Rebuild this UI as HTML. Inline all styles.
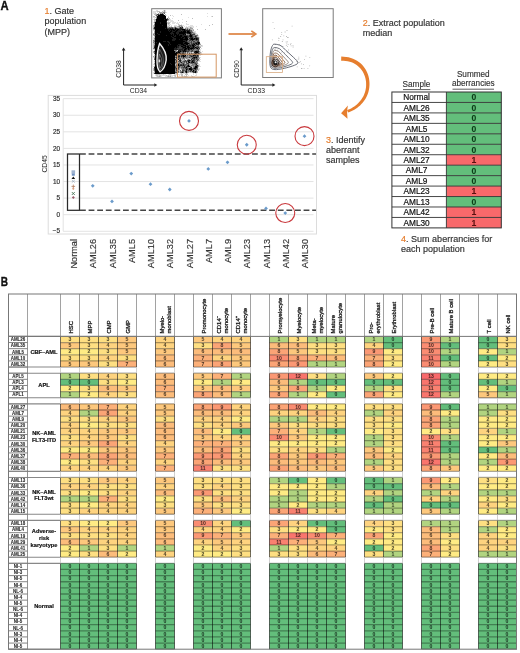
<!DOCTYPE html>
<html><head><meta charset="utf-8"><style>
html,body{margin:0;padding:0;background:#fff;}
svg{display:block;font-family:"Liberation Sans", sans-serif;will-change:transform;}
</style></head><body>
<svg width="520" height="653" viewBox="0 0 520 653">
<text transform="translate(0.5,10.4) scale(.9,1)" font-size="12.5" font-weight="bold" fill="#111" stroke="#111" stroke-width=".35">A</text>
<text x="44.6" y="13.6" font-size="9" fill="#333" stroke="#333" stroke-width=".18"><tspan x="44.6" y="13.60"><tspan fill="#e67e2e" stroke="#e67e2e">1</tspan>. Gate</tspan><tspan x="44.6" y="24.20">population</tspan><tspan x="44.6" y="34.80">(MPP)</tspan></text>
<text x="362.7" y="26.2" font-size="9" fill="#333" stroke="#333" stroke-width=".18"><tspan x="362.7" y="26.20"><tspan fill="#e67e2e" stroke="#e67e2e">2</tspan>. Extract population</tspan><tspan x="362.7" y="36.30">median</tspan></text>
<text x="326" y="143.3" font-size="9" fill="#333" stroke="#333" stroke-width=".18"><tspan x="326" y="143.30"><tspan fill="#e67e2e" stroke="#e67e2e">3</tspan>. Identify</tspan><tspan x="326" y="153.20">aberrant</tspan><tspan x="326" y="163.10">samples</tspan></text>
<text x="401.1" y="242.2" font-size="9" fill="#333" stroke="#333" stroke-width=".18"><tspan x="401.1" y="242.20"><tspan fill="#e67e2e" stroke="#e67e2e">4</tspan>. Sum aberrancies for</tspan><tspan x="401.1" y="251.50">each population</tspan></text>
<path d="M123.6 85 V50.0 M123.6 85 H154.8" stroke="#222" stroke-width="1" fill="none"/>
<path d="M121.8 50.5 L123.6 47.5 L125.39999999999999 50.5Z" fill="#222"/>
<path d="M154.3 83.2 L157.3 85 L154.3 86.8Z" fill="#222"/>
<text x="138.45" y="93.3" font-size="6.8" fill="#222" text-anchor="middle">CD34</text>
<text transform="translate(121.39999999999999,69) rotate(-90)" font-size="6.8" fill="#222" text-anchor="middle">CD38</text>
<path d="M241.2 85 V49.8 M241.2 85 H272.9" stroke="#222" stroke-width="1" fill="none"/>
<path d="M239.39999999999998 50.3 L241.2 47.3 L243.0 50.3Z" fill="#222"/>
<path d="M272.4 83.2 L275.4 85 L272.4 86.8Z" fill="#222"/>
<text x="256.3" y="93.3" font-size="6.8" fill="#222" text-anchor="middle">CD33</text>
<text transform="translate(239.0,69) rotate(-90)" font-size="6.8" fill="#222" text-anchor="middle">CD90</text>
<rect x="151.7" y="8.7" width="69.7" height="69.2" fill="#fff" stroke="#7a7a7a" stroke-width="1"/>
<path d="M156 10h2v1h-2zM163 10h1v1h-1zM165 10h1v1h-1zM153 11h4v1h-4zM163 11h1v1h-1zM165 11h1v1h-1zM153 12h3v1h-3zM157 12h1v1h-1zM166 12h1v1h-1zM153 13h2v1h-2zM156 13h1v1h-1zM159 13h1v1h-1zM207 13h1v1h-1zM166 15h1v1h-1zM172 15h1v1h-1zM168 16h1v1h-1zM173 16h1v1h-1zM207 16h1v1h-1zM211 16h1v1h-1zM153 17h2v1h-2zM188 17h1v1h-1zM154 18h1v1h-1zM168 18h1v1h-1zM172 18h1v1h-1zM153 19h1v1h-1zM169 19h2v1h-2zM182 19h1v1h-1zM169 20h4v1h-4zM168 21h1v1h-1zM170 21h4v1h-4zM153 22h1v1h-1zM170 22h1v1h-1zM172 22h4v1h-4zM177 22h1v1h-1zM179 22h1v1h-1zM182 22h1v1h-1zM172 23h3v1h-3zM176 23h3v1h-3zM186 23h1v1h-1zM167 24h1v1h-1zM169 24h2v1h-2zM179 24h1v1h-1zM181 24h1v1h-1zM186 24h3v1h-3zM201 24h1v1h-1zM167 25h2v1h-2zM171 25h1v1h-1zM174 25h3v1h-3zM178 25h1v1h-1zM182 25h2v1h-2zM190 25h3v1h-3zM169 26h2v1h-2zM176 26h1v1h-1zM184 26h1v1h-1zM186 26h1v1h-1zM188 26h6v1h-6zM196 26h1v1h-1zM183 27h1v1h-1zM185 27h1v1h-1zM188 27h2v1h-2zM192 27h2v1h-2zM184 28h1v1h-1zM153 30h1v1h-1zM193 31h3v1h-3zM195 32h1v1h-1zM196 33h1v1h-1zM196 34h1v1h-1zM198 35h1v1h-1zM198 36h1v1h-1zM153 37h1v1h-1zM199 37h1v1h-1zM153 38h1v1h-1zM199 38h1v1h-1zM153 39h1v1h-1zM199 39h1v1h-1zM199 40h1v1h-1zM200 43h1v1h-1zM199 45h2v1h-2zM202 45h1v1h-1zM201 46h2v1h-2zM201 48h1v1h-1zM153 49h1v1h-1zM200 49h1v1h-1zM177 50h1v1h-1zM199 50h2v1h-2zM200 51h1v1h-1zM202 51h1v1h-1zM192 52h1v1h-1zM201 52h1v1h-1zM201 53h1v1h-1zM154 54h1v1h-1zM202 54h1v1h-1zM199 55h2v1h-2zM153 57h1v1h-1zM200 57h1v1h-1zM185 59h2v1h-2zM199 59h2v1h-2zM154 60h1v1h-1zM177 60h1v1h-1zM198 61h3v1h-3zM154 62h1v1h-1zM198 63h1v1h-1zM153 64h1v1h-1zM198 64h2v1h-2zM154 65h1v1h-1zM199 65h1v1h-1zM153 66h1v1h-1zM199 66h2v1h-2zM198 67h1v1h-1zM198 68h2v1h-2zM180 69h1v1h-1zM199 69h1v1h-1zM181 70h1v1h-1zM197 70h1v1h-1zM153 72h1v1h-1zM189 72h1v1h-1zM153 73h1v1h-1zM177 73h1v1h-1zM180 73h1v1h-1zM182 73h4v1h-4zM187 73h1v1h-1zM193 73h1v1h-1zM195 73h2v1h-2zM155 74h1v1h-1zM160 74h3v1h-3zM164 74h2v1h-2zM168 74h1v1h-1zM171 74h1v1h-1zM174 74h3v1h-3zM178 74h3v1h-3zM193 74h1v1h-1zM196 74h1v1h-1zM155 75h1v1h-1zM158 75h1v1h-1zM161 75h5v1h-5zM167 75h1v1h-1zM169 75h1v1h-1zM171 75h3v1h-3zM179 75h1v1h-1zM184 75h1v1h-1zM188 75h1v1h-1zM191 75h1v1h-1zM195 75h2v1h-2zM156 76h1v1h-1zM161 76h1v1h-1zM165 76h2v1h-2zM171 76h2v1h-2zM174 76h1v1h-1zM181 76h1v1h-1zM183 76h1v1h-1zM187 76h1v1h-1zM191 76h1v1h-1zM193 76h2v1h-2z" fill="rgb(223,223,223)" shape-rendering="crispEdges"/>
<path d="M157 11h3v1h-3zM162 11h1v1h-1zM162 12h1v1h-1zM165 12h1v1h-1zM155 13h1v1h-1zM163 13h1v1h-1zM154 14h2v1h-2zM165 14h1v1h-1zM181 14h1v1h-1zM155 15h1v1h-1zM165 15h1v1h-1zM170 15h1v1h-1zM153 16h2v1h-2zM212 16h1v1h-1zM155 17h1v1h-1zM168 17h1v1h-1zM166 18h1v1h-1zM169 18h1v1h-1zM192 18h1v1h-1zM154 19h1v1h-1zM154 20h2v1h-2zM168 20h1v1h-1zM178 20h1v1h-1zM154 21h1v1h-1zM186 21h1v1h-1zM167 22h3v1h-3zM154 23h1v1h-1zM167 23h1v1h-1zM169 23h1v1h-1zM168 24h1v1h-1zM178 24h1v1h-1zM212 24h1v1h-1zM153 25h1v1h-1zM169 25h1v1h-1zM209 25h1v1h-1zM153 26h1v1h-1zM167 26h2v1h-2zM171 26h1v1h-1zM174 26h2v1h-2zM177 26h1v1h-1zM180 26h1v1h-1zM153 27h1v1h-1zM177 27h2v1h-2zM186 27h2v1h-2zM191 27h1v1h-1zM186 28h1v1h-1zM188 28h2v1h-2zM153 29h1v1h-1zM191 29h3v1h-3zM197 29h1v1h-1zM205 29h1v1h-1zM154 30h1v1h-1zM192 30h1v1h-1zM194 32h1v1h-1zM153 33h1v1h-1zM195 33h1v1h-1zM195 34h1v1h-1zM197 34h1v1h-1zM153 35h1v1h-1zM154 36h1v1h-1zM197 36h1v1h-1zM154 37h1v1h-1zM199 41h1v1h-1zM153 43h1v1h-1zM153 44h1v1h-1zM153 45h1v1h-1zM201 45h1v1h-1zM153 46h1v1h-1zM200 46h1v1h-1zM153 47h1v1h-1zM154 49h1v1h-1zM154 50h1v1h-1zM153 51h1v1h-1zM153 52h1v1h-1zM186 52h1v1h-1zM190 52h1v1h-1zM193 52h1v1h-1zM186 53h1v1h-1zM188 53h1v1h-1zM200 53h1v1h-1zM199 54h3v1h-3zM154 55h1v1h-1zM154 56h1v1h-1zM199 57h1v1h-1zM175 58h1v1h-1zM185 58h1v1h-1zM188 58h2v1h-2zM177 59h1v1h-1zM181 59h1v1h-1zM183 59h1v1h-1zM190 59h1v1h-1zM178 60h1v1h-1zM182 60h1v1h-1zM199 60h1v1h-1zM154 61h1v1h-1zM177 61h1v1h-1zM185 63h1v1h-1zM154 64h1v1h-1zM175 64h1v1h-1zM190 64h2v1h-2zM197 64h1v1h-1zM190 65h1v1h-1zM192 66h1v1h-1zM192 67h1v1h-1zM153 68h1v1h-1zM180 68h1v1h-1zM153 69h1v1h-1zM181 69h1v1h-1zM198 69h1v1h-1zM153 70h1v1h-1zM179 70h1v1h-1zM198 70h1v1h-1zM179 71h1v1h-1zM197 71h1v1h-1zM154 72h1v1h-1zM179 72h1v1h-1zM184 72h1v1h-1zM190 72h2v1h-2zM197 72h1v1h-1zM175 73h2v1h-2zM181 73h1v1h-1zM156 74h4v1h-4zM163 74h1v1h-1zM169 74h2v1h-2zM181 74h2v1h-2zM185 74h3v1h-3zM156 75h2v1h-2zM159 75h2v1h-2zM166 75h1v1h-1zM168 75h1v1h-1zM170 75h1v1h-1zM174 75h2v1h-2zM181 75h2v1h-2zM186 75h1v1h-1zM157 76h2v1h-2zM160 76h1v1h-1zM167 76h1v1h-1zM169 76h1v1h-1zM175 76h1v1h-1zM182 76h1v1h-1zM184 76h3v1h-3zM192 76h1v1h-1z" fill="rgb(191,191,191)" shape-rendering="crispEdges"/>
<path d="M164 10h1v1h-1zM164 11h1v1h-1zM159 12h3v1h-3zM158 13h1v1h-1zM161 13h1v1h-1zM156 14h1v1h-1zM157 15h1v1h-1zM156 16h1v1h-1zM156 17h1v1h-1zM155 19h1v1h-1zM155 21h1v1h-1zM168 23h1v1h-1zM179 25h3v1h-3zM178 26h1v1h-1zM182 26h1v1h-1zM168 27h1v1h-1zM173 27h1v1h-1zM176 27h1v1h-1zM190 27h1v1h-1zM183 28h1v1h-1zM190 28h3v1h-3zM188 29h1v1h-1zM190 29h1v1h-1zM193 30h1v1h-1zM154 31h1v1h-1zM192 31h1v1h-1zM154 32h1v1h-1zM193 32h1v1h-1zM192 33h1v1h-1zM154 34h1v1h-1zM186 34h1v1h-1zM154 39h1v1h-1zM153 41h1v1h-1zM154 42h1v1h-1zM154 44h1v1h-1zM200 44h1v1h-1zM199 46h1v1h-1zM200 47h1v1h-1zM199 49h1v1h-1zM176 51h1v1h-1zM188 52h2v1h-2zM191 52h1v1h-1zM199 52h2v1h-2zM190 53h1v1h-1zM179 54h1v1h-1zM186 55h1v1h-1zM188 55h1v1h-1zM153 56h1v1h-1zM175 56h1v1h-1zM188 56h1v1h-1zM154 57h1v1h-1zM180 57h1v1h-1zM181 58h1v1h-1zM187 58h1v1h-1zM190 58h1v1h-1zM198 58h2v1h-2zM182 59h1v1h-1zM187 59h1v1h-1zM183 60h1v1h-1zM186 60h1v1h-1zM196 60h1v1h-1zM198 60h1v1h-1zM175 61h1v1h-1zM181 61h1v1h-1zM195 61h1v1h-1zM197 61h1v1h-1zM177 62h2v1h-2zM185 62h1v1h-1zM187 62h1v1h-1zM197 62h1v1h-1zM154 63h1v1h-1zM176 63h1v1h-1zM180 63h1v1h-1zM189 63h1v1h-1zM189 64h1v1h-1zM175 65h1v1h-1zM194 65h1v1h-1zM198 65h1v1h-1zM154 66h1v1h-1zM191 66h1v1h-1zM198 66h1v1h-1zM180 67h1v1h-1zM189 67h1v1h-1zM179 68h1v1h-1zM179 69h1v1h-1zM175 70h1v1h-1zM178 70h1v1h-1zM154 71h1v1h-1zM184 71h1v1h-1zM188 72h1v1h-1zM192 72h1v1h-1zM186 73h1v1h-1zM159 76h1v1h-1zM168 76h1v1h-1zM170 76h1v1h-1z" fill="rgb(159,159,159)" shape-rendering="crispEdges"/>
<path d="M163 12h2v1h-2zM160 13h1v1h-1zM159 14h1v1h-1zM156 18h1v1h-1zM168 19h1v1h-1zM167 20h1v1h-1zM154 22h1v1h-1zM154 24h1v1h-1zM154 25h1v1h-1zM154 26h1v1h-1zM179 26h1v1h-1zM181 26h1v1h-1zM167 27h1v1h-1zM170 27h1v1h-1zM174 27h1v1h-1zM179 27h1v1h-1zM153 28h1v1h-1zM185 28h1v1h-1zM187 28h1v1h-1zM154 29h1v1h-1zM186 29h1v1h-1zM154 33h1v1h-1zM193 33h2v1h-2zM153 34h1v1h-1zM187 34h2v1h-2zM154 35h1v1h-1zM193 35h2v1h-2zM197 35h1v1h-1zM194 37h1v1h-1zM198 37h1v1h-1zM154 38h1v1h-1zM188 38h1v1h-1zM153 40h2v1h-2zM188 40h1v1h-1zM194 40h1v1h-1zM190 41h1v1h-1zM192 41h1v1h-1zM195 41h2v1h-2zM153 42h1v1h-1zM192 42h1v1h-1zM154 43h1v1h-1zM190 43h1v1h-1zM199 44h1v1h-1zM196 45h2v1h-2zM195 46h1v1h-1zM199 47h1v1h-1zM153 48h1v1h-1zM194 49h3v1h-3zM174 50h3v1h-3zM190 50h1v1h-1zM193 50h3v1h-3zM189 51h2v1h-2zM193 51h1v1h-1zM199 51h1v1h-1zM154 52h1v1h-1zM181 52h1v1h-1zM184 52h1v1h-1zM192 53h2v1h-2zM186 54h2v1h-2zM191 54h1v1h-1zM198 54h1v1h-1zM180 55h1v1h-1zM180 56h1v1h-1zM186 56h2v1h-2zM189 56h1v1h-1zM182 57h1v1h-1zM184 57h1v1h-1zM186 57h3v1h-3zM190 57h2v1h-2zM198 57h1v1h-1zM154 58h1v1h-1zM177 58h1v1h-1zM182 58h1v1h-1zM184 58h1v1h-1zM186 58h1v1h-1zM191 58h1v1h-1zM176 59h1v1h-1zM179 59h1v1h-1zM184 59h1v1h-1zM189 59h1v1h-1zM192 59h1v1h-1zM195 59h1v1h-1zM175 60h1v1h-1zM181 60h1v1h-1zM184 60h1v1h-1zM195 60h1v1h-1zM182 61h1v1h-1zM190 61h1v1h-1zM179 62h1v1h-1zM182 62h2v1h-2zM196 62h1v1h-1zM175 63h1v1h-1zM181 63h1v1h-1zM184 63h1v1h-1zM190 63h1v1h-1zM193 63h1v1h-1zM197 63h1v1h-1zM176 64h1v1h-1zM187 64h1v1h-1zM192 64h3v1h-3zM186 65h1v1h-1zM189 65h1v1h-1zM191 65h3v1h-3zM176 66h1v1h-1zM180 66h2v1h-2zM183 66h1v1h-1zM185 66h1v1h-1zM193 66h2v1h-2zM176 67h2v1h-2zM188 67h1v1h-1zM193 67h1v1h-1zM181 68h2v1h-2zM184 68h1v1h-1zM175 69h1v1h-1zM177 69h1v1h-1zM184 69h2v1h-2zM197 69h1v1h-1zM187 70h1v1h-1zM189 70h1v1h-1zM192 70h1v1h-1zM175 71h3v1h-3zM180 71h2v1h-2zM187 71h3v1h-3zM191 71h1v1h-1zM177 72h2v1h-2zM187 72h1v1h-1zM196 72h1v1h-1z" fill="rgb(128,128,128)" shape-rendering="crispEdges"/>
<path d="M162 13h1v1h-1zM164 13h1v1h-1zM156 15h1v1h-1zM167 18h1v1h-1zM169 27h1v1h-1zM171 27h2v1h-2zM181 27h1v1h-1zM173 28h2v1h-2zM178 28h1v1h-1zM190 30h2v1h-2zM190 31h2v1h-2zM191 32h2v1h-2zM186 33h1v1h-1zM191 33h1v1h-1zM189 34h1v1h-1zM188 35h1v1h-1zM195 35h2v1h-2zM193 36h2v1h-2zM196 36h1v1h-1zM189 37h1v1h-1zM193 37h1v1h-1zM197 37h1v1h-1zM189 39h1v1h-1zM191 40h1v1h-1zM193 40h1v1h-1zM195 40h1v1h-1zM197 40h1v1h-1zM154 41h1v1h-1zM187 41h3v1h-3zM188 42h3v1h-3zM193 42h2v1h-2zM192 43h1v1h-1zM188 44h1v1h-1zM190 44h1v1h-1zM195 44h1v1h-1zM154 45h1v1h-1zM198 45h1v1h-1zM196 46h1v1h-1zM198 46h1v1h-1zM154 48h1v1h-1zM195 48h1v1h-1zM198 48h1v1h-1zM192 49h1v1h-1zM197 49h1v1h-1zM187 50h1v1h-1zM191 50h1v1h-1zM196 50h2v1h-2zM175 51h1v1h-1zM177 51h1v1h-1zM192 51h1v1h-1zM175 52h1v1h-1zM180 52h1v1h-1zM182 52h1v1h-1zM185 52h1v1h-1zM187 52h1v1h-1zM154 53h1v1h-1zM181 53h1v1h-1zM184 53h2v1h-2zM187 53h1v1h-1zM194 53h1v1h-1zM197 53h1v1h-1zM199 53h1v1h-1zM185 54h1v1h-1zM188 54h1v1h-1zM190 54h1v1h-1zM192 54h2v1h-2zM197 54h1v1h-1zM187 55h1v1h-1zM189 55h1v1h-1zM191 55h2v1h-2zM196 55h1v1h-1zM198 55h1v1h-1zM176 56h1v1h-1zM190 56h1v1h-1zM194 56h1v1h-1zM198 56h1v1h-1zM175 57h1v1h-1zM177 57h1v1h-1zM179 57h1v1h-1zM181 57h1v1h-1zM185 57h1v1h-1zM192 57h1v1h-1zM197 57h1v1h-1zM178 58h3v1h-3zM183 58h1v1h-1zM195 58h1v1h-1zM197 58h1v1h-1zM154 59h1v1h-1zM188 59h1v1h-1zM197 59h2v1h-2zM191 60h1v1h-1zM178 61h2v1h-2zM183 61h1v1h-1zM185 61h1v1h-1zM187 61h1v1h-1zM196 61h1v1h-1zM175 62h2v1h-2zM180 62h1v1h-1zM184 62h1v1h-1zM190 62h1v1h-1zM195 62h1v1h-1zM177 63h3v1h-3zM182 63h1v1h-1zM186 63h1v1h-1zM191 63h2v1h-2zM194 63h1v1h-1zM196 63h1v1h-1zM177 64h1v1h-1zM179 64h1v1h-1zM182 64h1v1h-1zM184 64h3v1h-3zM195 64h1v1h-1zM176 65h1v1h-1zM185 65h1v1h-1zM195 65h1v1h-1zM175 66h1v1h-1zM178 66h1v1h-1zM182 66h1v1h-1zM190 66h1v1h-1zM179 67h1v1h-1zM181 67h2v1h-2zM187 67h1v1h-1zM175 68h1v1h-1zM177 68h1v1h-1zM183 68h1v1h-1zM188 68h1v1h-1zM192 68h1v1h-1zM197 68h1v1h-1zM178 69h1v1h-1zM182 69h2v1h-2zM188 69h1v1h-1zM193 69h2v1h-2zM196 69h1v1h-1zM154 70h1v1h-1zM180 70h1v1h-1zM184 70h2v1h-2zM188 70h1v1h-1zM194 70h3v1h-3zM178 71h1v1h-1zM183 71h1v1h-1zM194 71h1v1h-1zM196 71h1v1h-1zM180 72h1v1h-1zM183 72h1v1h-1zM185 72h1v1h-1z" fill="rgb(96,96,96)" shape-rendering="crispEdges"/>
<path d="M157 14h2v1h-2zM163 14h1v1h-1zM167 19h1v1h-1zM175 27h1v1h-1zM167 28h3v1h-3zM171 28h1v1h-1zM177 28h1v1h-1zM179 28h1v1h-1zM182 28h1v1h-1zM185 29h1v1h-1zM187 29h1v1h-1zM189 29h1v1h-1zM181 30h1v1h-1zM186 31h1v1h-1zM191 34h4v1h-4zM186 35h2v1h-2zM192 35h1v1h-1zM188 36h1v1h-1zM192 36h1v1h-1zM188 37h1v1h-1zM195 37h2v1h-2zM193 38h1v1h-1zM198 38h1v1h-1zM188 39h1v1h-1zM195 39h1v1h-1zM198 39h1v1h-1zM187 40h1v1h-1zM189 40h2v1h-2zM196 40h1v1h-1zM198 40h1v1h-1zM191 41h1v1h-1zM193 41h2v1h-2zM197 41h2v1h-2zM191 42h1v1h-1zM195 42h2v1h-2zM189 43h1v1h-1zM191 43h1v1h-1zM194 43h1v1h-1zM197 43h1v1h-1zM189 44h1v1h-1zM191 44h1v1h-1zM186 45h1v1h-1zM191 45h1v1h-1zM194 45h1v1h-1zM154 46h1v1h-1zM179 46h2v1h-2zM189 46h1v1h-1zM191 46h1v1h-1zM197 46h1v1h-1zM179 47h3v1h-3zM186 47h1v1h-1zM190 47h1v1h-1zM194 47h1v1h-1zM197 47h1v1h-1zM177 48h5v1h-5zM199 48h1v1h-1zM178 49h1v1h-1zM183 49h1v1h-1zM187 49h1v1h-1zM190 49h1v1h-1zM193 49h1v1h-1zM198 49h1v1h-1zM181 50h1v1h-1zM186 50h1v1h-1zM188 50h2v1h-2zM192 50h1v1h-1zM198 50h1v1h-1zM154 51h1v1h-1zM181 51h2v1h-2zM186 51h3v1h-3zM191 51h1v1h-1zM194 51h1v1h-1zM183 52h1v1h-1zM198 52h1v1h-1zM178 53h1v1h-1zM189 53h1v1h-1zM191 53h1v1h-1zM189 54h1v1h-1zM195 54h2v1h-2zM175 55h1v1h-1zM178 55h2v1h-2zM181 55h1v1h-1zM184 55h1v1h-1zM190 55h1v1h-1zM182 56h1v1h-1zM185 56h1v1h-1zM192 56h2v1h-2zM195 56h3v1h-3zM178 57h1v1h-1zM189 57h1v1h-1zM176 58h1v1h-1zM193 58h1v1h-1zM196 58h1v1h-1zM175 59h1v1h-1zM180 59h1v1h-1zM193 59h2v1h-2zM196 59h1v1h-1zM176 60h1v1h-1zM185 60h1v1h-1zM187 60h1v1h-1zM190 60h1v1h-1zM194 60h1v1h-1zM197 60h1v1h-1zM176 61h1v1h-1zM184 61h1v1h-1zM186 61h1v1h-1zM189 61h1v1h-1zM191 61h1v1h-1zM193 61h2v1h-2zM186 62h1v1h-1zM194 62h1v1h-1zM183 63h1v1h-1zM187 63h2v1h-2zM195 63h1v1h-1zM180 64h2v1h-2zM188 64h1v1h-1zM179 65h1v1h-1zM182 65h1v1h-1zM184 65h1v1h-1zM187 65h1v1h-1zM196 65h1v1h-1zM179 66h1v1h-1zM186 66h1v1h-1zM197 66h1v1h-1zM175 67h1v1h-1zM178 67h1v1h-1zM183 67h3v1h-3zM190 67h1v1h-1zM194 67h1v1h-1zM197 67h1v1h-1zM154 68h1v1h-1zM178 68h1v1h-1zM185 68h3v1h-3zM193 68h1v1h-1zM196 68h1v1h-1zM154 69h1v1h-1zM176 69h1v1h-1zM187 69h1v1h-1zM192 69h1v1h-1zM176 70h1v1h-1zM182 70h2v1h-2zM190 70h1v1h-1zM182 71h1v1h-1zM190 71h1v1h-1zM175 72h2v1h-2zM181 72h1v1h-1zM193 72h2v1h-2zM154 73h1v1h-1z" fill="rgb(64,64,64)" shape-rendering="crispEdges"/>
<path d="M164 19h1v1h-1zM166 21h1v1h-1zM160 22h1v1h-1zM166 22h1v1h-1zM160 23h1v1h-1zM162 25h1v1h-1zM154 27h1v1h-1zM180 27h1v1h-1zM182 27h1v1h-1zM154 28h1v1h-1zM165 28h1v1h-1zM170 28h1v1h-1zM172 28h1v1h-1zM176 28h1v1h-1zM180 28h2v1h-2zM168 29h2v1h-2zM174 29h1v1h-1zM176 29h1v1h-1zM179 29h3v1h-3zM168 30h1v1h-1zM170 30h1v1h-1zM172 30h1v1h-1zM175 30h1v1h-1zM178 30h3v1h-3zM182 30h2v1h-2zM185 30h5v1h-5zM160 31h1v1h-1zM169 31h1v1h-1zM172 31h3v1h-3zM177 31h4v1h-4zM182 31h1v1h-1zM189 31h1v1h-1zM160 32h1v1h-1zM171 32h2v1h-2zM176 32h3v1h-3zM186 32h1v1h-1zM190 32h1v1h-1zM157 33h1v1h-1zM170 33h4v1h-4zM176 33h3v1h-3zM185 33h1v1h-1zM187 33h2v1h-2zM190 33h1v1h-1zM158 34h2v1h-2zM171 34h1v1h-1zM173 34h1v1h-1zM177 34h1v1h-1zM179 34h4v1h-4zM184 34h1v1h-1zM155 35h1v1h-1zM166 35h1v1h-1zM173 35h1v1h-1zM175 35h1v1h-1zM179 35h1v1h-1zM182 35h4v1h-4zM189 35h1v1h-1zM171 36h1v1h-1zM174 36h2v1h-2zM182 36h2v1h-2zM187 36h1v1h-1zM189 36h1v1h-1zM195 36h1v1h-1zM172 37h2v1h-2zM181 37h1v1h-1zM184 37h1v1h-1zM187 37h1v1h-1zM190 37h3v1h-3zM173 38h3v1h-3zM183 38h2v1h-2zM189 38h2v1h-2zM195 38h1v1h-1zM197 38h1v1h-1zM172 39h4v1h-4zM179 39h1v1h-1zM190 39h1v1h-1zM194 39h1v1h-1zM197 39h1v1h-1zM172 40h3v1h-3zM183 40h3v1h-3zM192 40h1v1h-1zM163 41h3v1h-3zM167 41h2v1h-2zM185 41h2v1h-2zM156 42h1v1h-1zM168 42h2v1h-2zM183 42h2v1h-2zM187 42h1v1h-1zM197 42h1v1h-1zM199 42h1v1h-1zM169 43h1v1h-1zM183 43h1v1h-1zM193 43h1v1h-1zM195 43h1v1h-1zM199 43h1v1h-1zM168 44h1v1h-1zM170 44h1v1h-1zM178 44h3v1h-3zM184 44h2v1h-2zM192 44h2v1h-2zM196 44h3v1h-3zM168 45h1v1h-1zM177 45h1v1h-1zM179 45h4v1h-4zM187 45h4v1h-4zM195 45h1v1h-1zM177 46h2v1h-2zM183 46h2v1h-2zM186 46h1v1h-1zM190 46h1v1h-1zM192 46h1v1h-1zM194 46h1v1h-1zM154 47h1v1h-1zM175 47h1v1h-1zM177 47h2v1h-2zM182 47h1v1h-1zM191 47h2v1h-2zM196 47h1v1h-1zM198 47h1v1h-1zM174 48h3v1h-3zM182 48h3v1h-3zM187 48h1v1h-1zM189 48h1v1h-1zM193 48h2v1h-2zM196 48h1v1h-1zM174 49h4v1h-4zM179 49h4v1h-4zM186 49h1v1h-1zM189 49h1v1h-1zM191 49h1v1h-1zM178 50h3v1h-3zM182 50h2v1h-2zM185 50h1v1h-1zM179 51h1v1h-1zM184 51h1v1h-1zM197 51h2v1h-2zM177 52h1v1h-1zM194 52h2v1h-2zM179 53h2v1h-2zM182 53h2v1h-2zM196 53h1v1h-1zM198 53h1v1h-1zM177 54h1v1h-1zM180 54h1v1h-1zM155 55h1v1h-1zM176 55h1v1h-1zM182 55h1v1h-1zM194 55h2v1h-2zM197 55h1v1h-1zM178 56h2v1h-2zM181 56h1v1h-1zM191 56h1v1h-1zM158 57h1v1h-1zM176 57h1v1h-1zM183 57h1v1h-1zM193 57h1v1h-1zM195 57h1v1h-1zM192 58h1v1h-1zM194 58h1v1h-1zM178 59h1v1h-1zM191 59h1v1h-1zM159 60h1v1h-1zM179 60h2v1h-2zM188 60h1v1h-1zM192 60h2v1h-2zM180 61h1v1h-1zM162 62h1v1h-1zM181 62h1v1h-1zM188 62h1v1h-1zM191 62h2v1h-2zM170 63h1v1h-1zM171 64h1v1h-1zM183 64h1v1h-1zM196 64h1v1h-1zM180 65h2v1h-2zM183 65h1v1h-1zM197 65h1v1h-1zM177 66h1v1h-1zM184 66h1v1h-1zM187 66h1v1h-1zM154 67h1v1h-1zM160 67h1v1h-1zM191 67h1v1h-1zM176 68h1v1h-1zM191 68h1v1h-1zM195 69h1v1h-1zM186 70h1v1h-1zM191 70h1v1h-1zM185 71h1v1h-1zM192 71h2v1h-2z" fill="rgb(32,32,32)" shape-rendering="crispEdges"/>
<path d="M160 14h3v1h-3zM158 15h7v1h-7zM157 16h9v1h-9zM157 17h9v1h-9zM157 18h9v1h-9zM156 19h8v1h-8zM165 19h2v1h-2zM156 20h11v1h-11zM156 21h10v1h-10zM155 22h5v1h-5zM161 22h5v1h-5zM155 23h5v1h-5zM161 23h6v1h-6zM155 24h12v1h-12zM155 25h7v1h-7zM163 25h4v1h-4zM155 26h12v1h-12zM155 27h12v1h-12zM155 28h10v1h-10zM166 28h1v1h-1zM175 28h1v1h-1zM155 29h13v1h-13zM170 29h4v1h-4zM175 29h1v1h-1zM177 29h2v1h-2zM182 29h3v1h-3zM155 30h13v1h-13zM169 30h1v1h-1zM171 30h1v1h-1zM173 30h2v1h-2zM176 30h2v1h-2zM184 30h1v1h-1zM155 31h5v1h-5zM161 31h8v1h-8zM170 31h2v1h-2zM175 31h2v1h-2zM181 31h1v1h-1zM183 31h3v1h-3zM187 31h2v1h-2zM155 32h5v1h-5zM161 32h10v1h-10zM173 32h3v1h-3zM179 32h7v1h-7zM187 32h3v1h-3zM155 33h2v1h-2zM158 33h12v1h-12zM174 33h2v1h-2zM179 33h6v1h-6zM189 33h1v1h-1zM155 34h3v1h-3zM160 34h11v1h-11zM172 34h1v1h-1zM174 34h3v1h-3zM178 34h1v1h-1zM183 34h1v1h-1zM185 34h1v1h-1zM190 34h1v1h-1zM156 35h10v1h-10zM167 35h6v1h-6zM174 35h1v1h-1zM176 35h3v1h-3zM180 35h2v1h-2zM190 35h2v1h-2zM155 36h16v1h-16zM172 36h2v1h-2zM176 36h6v1h-6zM184 36h3v1h-3zM190 36h2v1h-2zM155 37h17v1h-17zM174 37h7v1h-7zM182 37h2v1h-2zM185 37h2v1h-2zM155 38h18v1h-18zM176 38h7v1h-7zM185 38h3v1h-3zM191 38h2v1h-2zM194 38h1v1h-1zM196 38h1v1h-1zM155 39h17v1h-17zM176 39h3v1h-3zM180 39h8v1h-8zM191 39h3v1h-3zM196 39h1v1h-1zM155 40h17v1h-17zM175 40h8v1h-8zM186 40h1v1h-1zM155 41h8v1h-8zM166 41h1v1h-1zM169 41h16v1h-16zM155 42h1v1h-1zM157 42h11v1h-11zM170 42h13v1h-13zM185 42h2v1h-2zM198 42h1v1h-1zM155 43h14v1h-14zM170 43h13v1h-13zM184 43h5v1h-5zM196 43h1v1h-1zM198 43h1v1h-1zM155 44h13v1h-13zM169 44h1v1h-1zM171 44h7v1h-7zM181 44h3v1h-3zM186 44h2v1h-2zM194 44h1v1h-1zM155 45h13v1h-13zM169 45h8v1h-8zM178 45h1v1h-1zM183 45h3v1h-3zM192 45h2v1h-2zM155 46h22v1h-22zM181 46h2v1h-2zM185 46h1v1h-1zM187 46h2v1h-2zM193 46h1v1h-1zM155 47h20v1h-20zM176 47h1v1h-1zM183 47h3v1h-3zM187 47h3v1h-3zM193 47h1v1h-1zM195 47h1v1h-1zM155 48h19v1h-19zM185 48h2v1h-2zM188 48h1v1h-1zM190 48h3v1h-3zM197 48h1v1h-1zM155 49h19v1h-19zM184 49h2v1h-2zM188 49h1v1h-1zM155 50h19v1h-19zM184 50h1v1h-1zM155 51h20v1h-20zM178 51h1v1h-1zM180 51h1v1h-1zM183 51h1v1h-1zM185 51h1v1h-1zM195 51h2v1h-2zM155 52h20v1h-20zM176 52h1v1h-1zM178 52h2v1h-2zM196 52h2v1h-2zM155 53h23v1h-23zM195 53h1v1h-1zM155 54h22v1h-22zM178 54h1v1h-1zM181 54h4v1h-4zM194 54h1v1h-1zM156 55h19v1h-19zM177 55h1v1h-1zM183 55h1v1h-1zM185 55h1v1h-1zM193 55h1v1h-1zM155 56h20v1h-20zM177 56h1v1h-1zM183 56h2v1h-2zM155 57h3v1h-3zM159 57h16v1h-16zM194 57h1v1h-1zM196 57h1v1h-1zM155 58h20v1h-20zM155 59h20v1h-20zM155 60h4v1h-4zM160 60h15v1h-15zM189 60h1v1h-1zM155 61h20v1h-20zM188 61h1v1h-1zM192 61h1v1h-1zM155 62h7v1h-7zM163 62h12v1h-12zM189 62h1v1h-1zM193 62h1v1h-1zM155 63h15v1h-15zM171 63h4v1h-4zM155 64h16v1h-16zM172 64h3v1h-3zM178 64h1v1h-1zM155 65h20v1h-20zM177 65h2v1h-2zM188 65h1v1h-1zM155 66h20v1h-20zM188 66h2v1h-2zM195 66h2v1h-2zM155 67h5v1h-5zM161 67h14v1h-14zM186 67h1v1h-1zM195 67h2v1h-2zM155 68h20v1h-20zM189 68h2v1h-2zM194 68h2v1h-2zM155 69h20v1h-20zM186 69h1v1h-1zM189 69h3v1h-3zM155 70h20v1h-20zM177 70h1v1h-1zM193 70h1v1h-1zM155 71h20v1h-20zM186 71h1v1h-1zM195 71h1v1h-1zM155 72h20v1h-20zM182 72h1v1h-1zM186 72h1v1h-1zM195 72h1v1h-1zM155 73h20v1h-20z" fill="rgb(0,0,0)" shape-rendering="crispEdges"/>
<path d="M159.6 43.5 Q167 52 166.2 60 Q165 69 160 71.8 Q156.8 69 157 60 Q157.3 50 159.6 43.5Z" fill="#1a1a1a" stroke="#f4f4f4" stroke-width="1.4"/>
<path d="M159.6 49 Q164 56 163.6 62 Q163 68 160 70 Q158.3 67 158.4 60 Q158.6 53 159.6 49Z" fill="none" stroke="#8a8a8a" stroke-width=".5"/>
<path d="M159.5 54 Q162.3 59 162 63 Q161.5 67 159.9 68 Q159 65 159 60Z" fill="none" stroke="#aaa" stroke-width=".5"/>
<rect x="158.6" y="59.5" width="1.6" height="2.8" fill="#ddd"/>
<rect x="177.4" y="54.2" width="38.8" height="22.9" fill="none" stroke="#d49663" stroke-width="1"/>
<path d="M228.5 34 H255" stroke="#df8a4c" stroke-width="1.8"/>
<path d="M251.3 30.9 L255.8 34 L251.3 37.1" fill="none" stroke="#df8a4c" stroke-width="1.7"/>
<rect x="262.7" y="8.7" width="70.5" height="68.8" fill="#fff" stroke="#7a7a7a" stroke-width="1"/>
<path d="M282.5 46.1h.8v.8h-.8zM282.6 39.5h.8v.8h-.8zM278.4 40.3h.8v.8h-.8zM290.7 45.4h.8v.8h-.8zM290.2 44.0h.8v.8h-.8zM286.4 43.5h.8v.8h-.8zM274.0 48.8h.8v.8h-.8zM287.0 46.0h.8v.8h-.8zM273.9 28.0h.8v.8h-.8zM278.7 38.3h.8v.8h-.8zM285.8 41.6h.8v.8h-.8zM287.1 36.9h.8v.8h-.8zM285.9 45.2h.8v.8h-.8zM280.0 55.7h.8v.8h-.8zM287.3 51.6h.8v.8h-.8zM280.3 36.1h.8v.8h-.8zM281.9 41.1h.8v.8h-.8zM287.8 44.0h.8v.8h-.8zM281.3 34.3h.8v.8h-.8zM280.9 51.8h.8v.8h-.8zM279.2 44.0h.8v.8h-.8zM286.6 30.1h.8v.8h-.8zM284.3 52.4h.8v.8h-.8zM271.9 39.4h.8v.8h-.8zM283.4 35.5h.8v.8h-.8zM287.0 41.5h.8v.8h-.8zM275.2 48.6h.8v.8h-.8zM288.0 49.6h.8v.8h-.8zM292.6 44.9h.8v.8h-.8zM284.7 31.6h.8v.8h-.8zM287.7 37.1h.8v.8h-.8zM281.3 31.9h.8v.8h-.8zM278.2 37.8h.8v.8h-.8zM291.7 25.7h.8v.8h-.8zM275.3 43.9h.8v.8h-.8zM292.7 46.6h.8v.8h-.8zM272.6 21.9h.8v.8h-.8zM286.1 36.1h.8v.8h-.8zM277.3 49.8h.8v.8h-.8zM290.6 43.3h.8v.8h-.8zM298.4 56.8h.8v.8h-.8zM296.8 66.5h.8v.8h-.8zM297.8 58.7h.8v.8h-.8zM301.5 68.1h.8v.8h-.8zM297.1 61.7h.8v.8h-.8zM303.7 68.3h.8v.8h-.8zM307.5 68.0h.8v.8h-.8zM299.9 61.2h.8v.8h-.8zM301.0 68.3h.8v.8h-.8zM309.4 57.3h.8v.8h-.8zM298.5 58.5h.8v.8h-.8zM299.3 62.3h.8v.8h-.8zM304.2 58.9h.8v.8h-.8zM296.1 61.3h.8v.8h-.8zM301.2 63.5h.8v.8h-.8zM309.3 65.4h.8v.8h-.8zM303.2 64.3h.8v.8h-.8zM305.5 55.8h.8v.8h-.8z" fill="#aaa"/>
<path d="M272.50 45.50 C273.25 44.20 273.58 44.15 275.00 44.20 C276.42 44.25 279.17 44.75 281.00 45.80 C282.83 46.85 284.17 48.80 286.00 50.50 C287.83 52.20 290.08 54.17 292.00 56.00 C293.92 57.83 296.67 60.17 297.50 61.50 C298.33 62.83 298.08 63.17 297.00 64.00 C295.92 64.83 293.50 65.70 291.00 66.50 C288.50 67.30 284.67 68.28 282.00 68.80 C279.33 69.32 276.83 69.73 275.00 69.60 C273.17 69.47 271.87 69.27 271.00 68.00 C270.13 66.73 269.88 64.67 269.80 62.00 C269.72 59.33 270.05 54.75 270.50 52.00 C270.95 49.25 271.75 46.80 272.50 45.50Z" fill="none" stroke="#4e535e" stroke-width="0.85"/>
<path d="M273.00 48.56 C273.62 47.49 273.95 47.45 275.05 47.49 C276.16 47.53 278.25 47.95 279.65 48.81 C281.06 49.67 282.07 51.27 283.47 52.66 C284.87 54.05 286.59 55.67 288.06 57.17 C289.52 58.67 291.62 60.59 292.26 61.68 C292.90 62.77 292.70 63.05 291.88 63.73 C291.05 64.41 289.20 65.12 287.29 65.78 C285.38 66.44 282.46 67.24 280.42 67.67 C278.38 68.09 276.49 68.43 275.05 68.32 C273.61 68.21 272.48 68.05 271.77 67.01 C271.06 65.97 270.86 64.28 270.79 62.09 C270.72 59.90 271.00 56.15 271.36 53.89 C271.73 51.63 272.39 49.63 273.00 48.56Z" fill="none" stroke="#545863" stroke-width="0.85"/>
<path d="M273.45 51.28 C273.95 50.42 274.25 50.39 275.10 50.42 C275.96 50.45 277.52 50.79 278.58 51.48 C279.63 52.17 280.40 53.46 281.45 54.58 C282.50 55.70 283.80 57.00 284.90 58.21 C286.00 59.42 287.58 60.96 288.06 61.84 C288.54 62.72 288.39 62.94 287.77 63.49 C287.15 64.04 285.76 64.61 284.32 65.14 C282.89 65.67 280.69 66.32 279.15 66.66 C277.61 67.00 276.22 67.27 275.10 67.19 C273.99 67.10 273.03 66.97 272.46 66.13 C271.89 65.29 271.73 63.93 271.67 62.17 C271.62 60.41 271.84 57.38 272.13 55.57 C272.43 53.76 272.96 52.14 273.45 51.28Z" fill="none" stroke="#7a6a62" stroke-width="0.8"/>
<path d="M273.84 53.66 C274.23 52.98 274.50 52.96 275.14 52.98 C275.79 53.01 276.94 53.27 277.72 53.82 C278.51 54.36 279.07 55.38 279.85 56.26 C280.63 57.14 281.59 58.17 282.40 59.12 C283.21 60.07 284.38 61.29 284.74 61.98 C285.09 62.67 284.99 62.85 284.53 63.28 C284.07 63.71 283.04 64.16 281.97 64.58 C280.91 65.00 279.29 65.51 278.15 65.78 C277.01 66.04 275.99 66.26 275.14 66.19 C274.30 66.12 273.51 66.02 273.06 65.36 C272.61 64.70 272.48 63.63 272.44 62.24 C272.40 60.85 272.57 58.47 272.80 57.04 C273.04 55.61 273.45 54.34 273.84 53.66Z" fill="none" stroke="#80583e" stroke-width="0.85"/>
<path d="M274.18 55.70 C274.48 55.18 274.70 55.16 275.18 55.18 C275.66 55.20 276.49 55.40 277.06 55.82 C277.63 56.24 278.04 57.02 278.60 57.70 C279.17 58.38 279.87 59.17 280.46 59.90 C281.05 60.63 281.90 61.57 282.16 62.10 C282.41 62.63 282.34 62.77 282.00 63.10 C281.67 63.43 280.92 63.78 280.15 64.10 C279.38 64.42 278.20 64.81 277.37 65.02 C276.54 65.23 275.81 65.39 275.18 65.34 C274.55 65.29 273.93 65.21 273.58 64.70 C273.23 64.19 273.13 63.37 273.10 62.30 C273.07 61.23 273.20 59.40 273.38 58.30 C273.56 57.20 273.88 56.22 274.18 55.70Z" fill="none" stroke="#6e4530" stroke-width="0.9"/>
<path d="M274.49 57.57 C274.71 57.19 274.88 57.18 275.21 57.19 C275.55 57.21 276.11 57.35 276.51 57.66 C276.90 57.96 277.18 58.53 277.57 59.02 C277.95 59.51 278.43 60.08 278.84 60.62 C279.24 61.15 279.82 61.82 280.00 62.21 C280.18 62.60 280.12 62.69 279.90 62.94 C279.67 63.18 279.15 63.43 278.62 63.66 C278.10 63.89 277.29 64.18 276.72 64.33 C276.15 64.48 275.66 64.60 275.21 64.56 C274.77 64.52 274.30 64.46 274.05 64.09 C273.80 63.73 273.73 63.13 273.70 62.35 C273.68 61.58 273.78 60.25 273.91 59.45 C274.04 58.66 274.27 57.95 274.49 57.57Z" fill="none" stroke="#3a2820" stroke-width="1.0"/>
<ellipse cx="275.2" cy="63" rx="3.4" ry="3.9" fill="none" stroke="#3a2a25" stroke-width=".9"/>
<ellipse cx="275.4" cy="62.8" rx="2.2" ry="2.6" fill="#1a1a1a"/>
<circle cx="275.6" cy="62.3" r="1.0" fill="#eef2f4"/>
<rect x="266.3" y="56.7" width="16.3" height="15.7" fill="none" stroke="#d9ab80" stroke-width=".8"/>
<path d="M341.15 60.65 L343.48 60.68 L345.64 60.88 L347.72 61.23 L349.69 61.72 L351.57 62.35 L353.35 63.12 L355.03 64.01 L356.61 65.03 L358.08 66.16 L359.43 67.40 L360.68 68.76 L361.81 70.21 L362.81 71.76 L363.70 73.41 L364.45 75.14 L365.07 76.96 L365.55 78.85 L365.89 80.82 L366.09 82.86 L366.13 84.96 L366.04 86.77 L365.83 88.54 L365.50 90.26 L365.05 91.93 L364.50 93.56 L363.85 95.13 L363.10 96.65 L362.26 98.11 L361.33 99.51 L360.33 100.84 L359.24 102.11 L358.09 103.32 L356.87 104.44 L355.60 105.50 L354.28 106.47 L352.91 107.36 L351.50 108.17 L350.06 108.89 L348.60 109.52 L347.07 110.07 L347.93 112.53 L349.54 111.99 L351.16 111.33 L352.76 110.58 L354.32 109.73 L355.84 108.78 L357.32 107.74 L358.74 106.62 L360.10 105.41 L361.40 104.11 L362.62 102.73 L363.77 101.27 L364.84 99.74 L365.81 98.13 L366.68 96.45 L367.45 94.70 L368.11 92.89 L368.65 91.01 L369.06 89.07 L369.34 87.08 L369.47 85.04 L369.47 82.70 L369.29 80.40 L368.95 78.16 L368.43 75.99 L367.76 73.90 L366.93 71.88 L365.94 69.96 L364.80 68.13 L363.52 66.41 L362.09 64.80 L360.53 63.31 L358.83 61.95 L357.01 60.72 L355.06 59.64 L353.00 58.71 L350.83 57.94 L348.56 57.33 L346.19 56.89 L343.73 56.63 L341.25 56.55Z" fill="#e67e2e"/>
<path d="M341.1 113.2 L347.9 105.6 L347 111.6 L347.5 118.8 Z" fill="#e67e2e"/>
<rect x="48.2" y="95.4" width="268.3" height="138.6" fill="#fff" stroke="#dcdcdc" stroke-width="1"/>
<path d="M63.2 231.27 H313.5" stroke="#e3e3e3" stroke-width="1"/>
<text x="60" y="233.47" font-size="6.4" fill="#333" stroke="#333" stroke-width=".2" text-anchor="end">−5</text>
<path d="M63.2 214.70 H313.5" stroke="#e3e3e3" stroke-width="1"/>
<text x="60" y="216.90" font-size="6.4" fill="#333" stroke="#333" stroke-width=".2" text-anchor="end">0</text>
<path d="M63.2 198.12 H313.5" stroke="#e3e3e3" stroke-width="1"/>
<text x="60" y="200.32" font-size="6.4" fill="#333" stroke="#333" stroke-width=".2" text-anchor="end">5</text>
<path d="M63.2 181.55 H313.5" stroke="#e3e3e3" stroke-width="1"/>
<text x="60" y="183.75" font-size="6.4" fill="#333" stroke="#333" stroke-width=".2" text-anchor="end">10</text>
<path d="M63.2 164.97 H313.5" stroke="#e3e3e3" stroke-width="1"/>
<text x="60" y="167.17" font-size="6.4" fill="#333" stroke="#333" stroke-width=".2" text-anchor="end">15</text>
<path d="M63.2 148.40 H313.5" stroke="#e3e3e3" stroke-width="1"/>
<text x="60" y="150.60" font-size="6.4" fill="#333" stroke="#333" stroke-width=".2" text-anchor="end">20</text>
<path d="M63.2 131.82 H313.5" stroke="#e3e3e3" stroke-width="1"/>
<text x="60" y="134.02" font-size="6.4" fill="#333" stroke="#333" stroke-width=".2" text-anchor="end">25</text>
<path d="M63.2 115.25 H313.5" stroke="#e3e3e3" stroke-width="1"/>
<text x="60" y="117.45" font-size="6.4" fill="#333" stroke="#333" stroke-width=".2" text-anchor="end">30</text>
<path d="M63.2 98.67 H313.5" stroke="#e3e3e3" stroke-width="1"/>
<text x="60" y="100.88" font-size="6.4" fill="#333" stroke="#333" stroke-width=".2" text-anchor="end">35</text>
<path d="M63.2 98.8 V231.3" stroke="#e3e3e3" stroke-width="1"/>
<text transform="translate(46.6,163.9) rotate(-90)" font-size="6.8" fill="#222" text-anchor="middle">CD45</text>
<text transform="translate(77.10,239) rotate(-90)" font-size="9.2" fill="#333" stroke="#333" stroke-width=".15" text-anchor="end">Normal</text>
<text transform="translate(96.35,239) rotate(-90)" font-size="9.2" fill="#333" stroke="#333" stroke-width=".15" text-anchor="end">AML26</text>
<text transform="translate(115.60,239) rotate(-90)" font-size="9.2" fill="#333" stroke="#333" stroke-width=".15" text-anchor="end">AML35</text>
<text transform="translate(134.85,239) rotate(-90)" font-size="9.2" fill="#333" stroke="#333" stroke-width=".15" text-anchor="end">AML5</text>
<text transform="translate(154.10,239) rotate(-90)" font-size="9.2" fill="#333" stroke="#333" stroke-width=".15" text-anchor="end">AML10</text>
<text transform="translate(173.35,239) rotate(-90)" font-size="9.2" fill="#333" stroke="#333" stroke-width=".15" text-anchor="end">AML32</text>
<text transform="translate(192.60,239) rotate(-90)" font-size="9.2" fill="#333" stroke="#333" stroke-width=".15" text-anchor="end">AML27</text>
<text transform="translate(211.85,239) rotate(-90)" font-size="9.2" fill="#333" stroke="#333" stroke-width=".15" text-anchor="end">AML7</text>
<text transform="translate(231.10,239) rotate(-90)" font-size="9.2" fill="#333" stroke="#333" stroke-width=".15" text-anchor="end">AML9</text>
<text transform="translate(250.35,239) rotate(-90)" font-size="9.2" fill="#333" stroke="#333" stroke-width=".15" text-anchor="end">AML23</text>
<text transform="translate(269.60,239) rotate(-90)" font-size="9.2" fill="#333" stroke="#333" stroke-width=".15" text-anchor="end">AML13</text>
<text transform="translate(288.85,239) rotate(-90)" font-size="9.2" fill="#333" stroke="#333" stroke-width=".15" text-anchor="end">AML42</text>
<text transform="translate(308.10,239) rotate(-90)" font-size="9.2" fill="#333" stroke="#333" stroke-width=".15" text-anchor="end">AML30</text>
<rect x="67.5" y="154" width="12" height="56.3" fill="none" stroke="#2a2a2a" stroke-width="1.25"/>
<path d="M80 154 H316 M80 210.3 H316" stroke="#444" stroke-width="1.4" stroke-dasharray="5.8 2.8"/>
<path d="M92.75 183.96 l1.9 1.9 l-1.9 1.9 l-1.9 -1.9Z" fill="#6b9bcb"/>
<path d="M112.00 199.54 l1.9 1.9 l-1.9 1.9 l-1.9 -1.9Z" fill="#6b9bcb"/>
<path d="M131.25 171.69 l1.9 1.9 l-1.9 1.9 l-1.9 -1.9Z" fill="#6b9bcb"/>
<path d="M150.50 182.30 l1.9 1.9 l-1.9 1.9 l-1.9 -1.9Z" fill="#6b9bcb"/>
<path d="M169.75 187.61 l1.9 1.9 l-1.9 1.9 l-1.9 -1.9Z" fill="#6b9bcb"/>
<path d="M189.00 118.99 l1.9 1.9 l-1.9 1.9 l-1.9 -1.9Z" fill="#6b9bcb"/>
<path d="M208.25 167.05 l1.9 1.9 l-1.9 1.9 l-1.9 -1.9Z" fill="#6b9bcb"/>
<path d="M227.50 160.42 l1.9 1.9 l-1.9 1.9 l-1.9 -1.9Z" fill="#6b9bcb"/>
<path d="M246.75 142.85 l1.9 1.9 l-1.9 1.9 l-1.9 -1.9Z" fill="#6b9bcb"/>
<path d="M266.00 206.50 l1.9 1.9 l-1.9 1.9 l-1.9 -1.9Z" fill="#6b9bcb"/>
<path d="M285.25 211.14 l1.9 1.9 l-1.9 1.9 l-1.9 -1.9Z" fill="#6b9bcb"/>
<path d="M304.50 134.23 l1.9 1.9 l-1.9 1.9 l-1.9 -1.9Z" fill="#6b9bcb"/>
<rect x="71.5" y="170.3" width="3.6" height="3.4" fill="#9fb3d0"/>
<rect x="71.8" y="173.5" width="3" height="2.2" fill="#6d8fc0"/>
<path d="M73.3 176.4 l1.8 2.6 h-3.6z" fill="#111"/>
<path d="M71.8 180 l3 2.6 M74.8 180 l-3 2.6" stroke="#9ab" stroke-width=".7"/>
<path d="M73.3 184.6 v3.6 M71.5 186.4 h3.6" stroke="#b07a5a" stroke-width=".8"/>
<path d="M73.3 187.5 l1.3 1.3 l-1.3 1.3 l-1.3 -1.3z" fill="#d9a080"/>
<path d="M71.8 192 l3 3 M74.8 192 l-3 3" stroke="#3b6b4a" stroke-width=".8"/>
<path d="M73.3 196 l1.5 1.5 l-1.5 1.5 l-1.5 -1.5z" fill="#9a5a6a"/>
<circle cx="189.00" cy="120.89" r="9.5" fill="none" stroke="#c9383c" stroke-width="1.1"/>
<circle cx="246.75" cy="144.75" r="9.5" fill="none" stroke="#c9383c" stroke-width="1.1"/>
<circle cx="285.25" cy="213.04" r="9.5" fill="none" stroke="#c9383c" stroke-width="1.1"/>
<circle cx="304.50" cy="136.13" r="9.5" fill="none" stroke="#c9383c" stroke-width="1.1"/>
<text x="416.5" y="87.3" font-size="8.2" fill="#333" stroke="#333" stroke-width=".15" text-anchor="middle">Sample</text>
<path d="M403 89.6 H430.3" stroke="#333" stroke-width=".8"/>
<text x="473.3" y="77.3" font-size="8.2" fill="#333" stroke="#333" stroke-width=".15" text-anchor="middle">Summed</text>
<text x="473.3" y="86.4" font-size="8.2" fill="#333" stroke="#333" stroke-width=".15" text-anchor="middle">aberrancies</text>
<path d="M452.5 89.2 H494" stroke="#333" stroke-width=".8"/>
<rect x="446.4" y="92.00" width="54.90" height="10.45" fill="#63be7b"/>
<text x="416.6" y="100.23" font-size="8.3" fill="#111" stroke="#111" stroke-width=".2" text-anchor="middle">Normal</text>
<text x="473.85" y="100.33" font-size="8.6" font-weight="bold" fill="#0b3d17" stroke="#0b3d17" stroke-width=".1" text-anchor="middle">0</text>
<rect x="446.4" y="102.45" width="54.90" height="10.45" fill="#63be7b"/>
<text x="416.6" y="110.68" font-size="8.3" fill="#111" stroke="#111" stroke-width=".2" text-anchor="middle">AML26</text>
<text x="473.85" y="110.78" font-size="8.6" font-weight="bold" fill="#0b3d17" stroke="#0b3d17" stroke-width=".1" text-anchor="middle">0</text>
<rect x="446.4" y="112.91" width="54.90" height="10.45" fill="#63be7b"/>
<text x="416.6" y="121.13" font-size="8.3" fill="#111" stroke="#111" stroke-width=".2" text-anchor="middle">AML35</text>
<text x="473.85" y="121.23" font-size="8.6" font-weight="bold" fill="#0b3d17" stroke="#0b3d17" stroke-width=".1" text-anchor="middle">0</text>
<rect x="446.4" y="123.36" width="54.90" height="10.45" fill="#63be7b"/>
<text x="416.6" y="131.59" font-size="8.3" fill="#111" stroke="#111" stroke-width=".2" text-anchor="middle">AML5</text>
<text x="473.85" y="131.69" font-size="8.6" font-weight="bold" fill="#0b3d17" stroke="#0b3d17" stroke-width=".1" text-anchor="middle">0</text>
<rect x="446.4" y="133.82" width="54.90" height="10.45" fill="#63be7b"/>
<text x="416.6" y="142.04" font-size="8.3" fill="#111" stroke="#111" stroke-width=".2" text-anchor="middle">AML10</text>
<text x="473.85" y="142.14" font-size="8.6" font-weight="bold" fill="#0b3d17" stroke="#0b3d17" stroke-width=".1" text-anchor="middle">0</text>
<rect x="446.4" y="144.27" width="54.90" height="10.45" fill="#63be7b"/>
<text x="416.6" y="152.50" font-size="8.3" fill="#111" stroke="#111" stroke-width=".2" text-anchor="middle">AML32</text>
<text x="473.85" y="152.60" font-size="8.6" font-weight="bold" fill="#0b3d17" stroke="#0b3d17" stroke-width=".1" text-anchor="middle">0</text>
<rect x="446.4" y="154.72" width="54.90" height="10.45" fill="#f8696b"/>
<text x="416.6" y="162.95" font-size="8.3" fill="#111" stroke="#111" stroke-width=".2" text-anchor="middle">AML27</text>
<text x="473.85" y="163.05" font-size="8.6" font-weight="bold" fill="#5a1010" stroke="#5a1010" stroke-width=".1" text-anchor="middle">1</text>
<rect x="446.4" y="165.18" width="54.90" height="10.45" fill="#63be7b"/>
<text x="416.6" y="173.40" font-size="8.3" fill="#111" stroke="#111" stroke-width=".2" text-anchor="middle">AML7</text>
<text x="473.85" y="173.50" font-size="8.6" font-weight="bold" fill="#0b3d17" stroke="#0b3d17" stroke-width=".1" text-anchor="middle">0</text>
<rect x="446.4" y="175.63" width="54.90" height="10.45" fill="#63be7b"/>
<text x="416.6" y="183.86" font-size="8.3" fill="#111" stroke="#111" stroke-width=".2" text-anchor="middle">AML9</text>
<text x="473.85" y="183.96" font-size="8.6" font-weight="bold" fill="#0b3d17" stroke="#0b3d17" stroke-width=".1" text-anchor="middle">0</text>
<rect x="446.4" y="186.08" width="54.90" height="10.45" fill="#f8696b"/>
<text x="416.6" y="194.31" font-size="8.3" fill="#111" stroke="#111" stroke-width=".2" text-anchor="middle">AML23</text>
<text x="473.85" y="194.41" font-size="8.6" font-weight="bold" fill="#5a1010" stroke="#5a1010" stroke-width=".1" text-anchor="middle">1</text>
<rect x="446.4" y="196.54" width="54.90" height="10.45" fill="#63be7b"/>
<text x="416.6" y="204.77" font-size="8.3" fill="#111" stroke="#111" stroke-width=".2" text-anchor="middle">AML13</text>
<text x="473.85" y="204.87" font-size="8.6" font-weight="bold" fill="#0b3d17" stroke="#0b3d17" stroke-width=".1" text-anchor="middle">0</text>
<rect x="446.4" y="206.99" width="54.90" height="10.45" fill="#f8696b"/>
<text x="416.6" y="215.22" font-size="8.3" fill="#111" stroke="#111" stroke-width=".2" text-anchor="middle">AML42</text>
<text x="473.85" y="215.32" font-size="8.6" font-weight="bold" fill="#5a1010" stroke="#5a1010" stroke-width=".1" text-anchor="middle">1</text>
<rect x="446.4" y="217.45" width="54.90" height="10.45" fill="#f8696b"/>
<text x="416.6" y="225.67" font-size="8.3" fill="#111" stroke="#111" stroke-width=".2" text-anchor="middle">AML30</text>
<text x="473.85" y="225.77" font-size="8.6" font-weight="bold" fill="#5a1010" stroke="#5a1010" stroke-width=".1" text-anchor="middle">1</text>
<path d="M391.9 102.45 H501.3" stroke="#333" stroke-width=".9"/>
<path d="M391.9 112.91 H501.3" stroke="#333" stroke-width=".9"/>
<path d="M391.9 123.36 H501.3" stroke="#333" stroke-width=".9"/>
<path d="M391.9 133.82 H501.3" stroke="#333" stroke-width=".9"/>
<path d="M391.9 144.27 H501.3" stroke="#333" stroke-width=".9"/>
<path d="M391.9 154.72 H501.3" stroke="#333" stroke-width=".9"/>
<path d="M391.9 165.18 H501.3" stroke="#333" stroke-width=".9"/>
<path d="M391.9 175.63 H501.3" stroke="#333" stroke-width=".9"/>
<path d="M391.9 186.08 H501.3" stroke="#333" stroke-width=".9"/>
<path d="M391.9 196.54 H501.3" stroke="#333" stroke-width=".9"/>
<path d="M391.9 206.99 H501.3" stroke="#333" stroke-width=".9"/>
<path d="M391.9 217.45 H501.3" stroke="#333" stroke-width=".9"/>
<rect x="391.9" y="92.0" width="109.40" height="135.90" fill="none" stroke="#333" stroke-width="1"/>
<path d="M446.4 92.0 V227.90" stroke="#333" stroke-width=".9"/>
<text transform="translate(0.7,285.7) scale(.82,1)" font-size="12.3" font-weight="bold" fill="#111" stroke="#111" stroke-width=".35">B</text>
<path d="M60.50 294.0 V336.4" stroke="#8a8a8a" stroke-width=".8"/>
<path d="M79.50 294.0 V336.4" stroke="#8a8a8a" stroke-width=".8"/>
<path d="M98.50 294.0 V336.4" stroke="#8a8a8a" stroke-width=".8"/>
<path d="M117.50 294.0 V336.4" stroke="#8a8a8a" stroke-width=".8"/>
<path d="M136.50 294.0 V336.4" stroke="#8a8a8a" stroke-width=".8"/>
<path d="M155.50 294.0 V336.4" stroke="#8a8a8a" stroke-width=".8"/>
<path d="M174.50 294.0 V336.4" stroke="#8a8a8a" stroke-width=".8"/>
<path d="M193.50 294.0 V336.4" stroke="#8a8a8a" stroke-width=".8"/>
<path d="M212.50 294.0 V336.4" stroke="#8a8a8a" stroke-width=".8"/>
<path d="M231.50 294.0 V336.4" stroke="#8a8a8a" stroke-width=".8"/>
<path d="M250.50 294.0 V336.4" stroke="#8a8a8a" stroke-width=".8"/>
<path d="M269.50 294.0 V336.4" stroke="#8a8a8a" stroke-width=".8"/>
<path d="M288.50 294.0 V336.4" stroke="#8a8a8a" stroke-width=".8"/>
<path d="M307.50 294.0 V336.4" stroke="#8a8a8a" stroke-width=".8"/>
<path d="M326.50 294.0 V336.4" stroke="#8a8a8a" stroke-width=".8"/>
<path d="M345.50 294.0 V336.4" stroke="#8a8a8a" stroke-width=".8"/>
<path d="M364.50 294.0 V336.4" stroke="#8a8a8a" stroke-width=".8"/>
<path d="M383.50 294.0 V336.4" stroke="#8a8a8a" stroke-width=".8"/>
<path d="M402.50 294.0 V336.4" stroke="#8a8a8a" stroke-width=".8"/>
<path d="M421.50 294.0 V336.4" stroke="#8a8a8a" stroke-width=".8"/>
<path d="M440.50 294.0 V336.4" stroke="#8a8a8a" stroke-width=".8"/>
<path d="M459.50 294.0 V336.4" stroke="#8a8a8a" stroke-width=".8"/>
<path d="M478.50 294.0 V336.4" stroke="#8a8a8a" stroke-width=".8"/>
<path d="M497.50 294.0 V336.4" stroke="#8a8a8a" stroke-width=".8"/>
<path d="M516.50 294.0 V336.4" stroke="#8a8a8a" stroke-width=".8"/>
<path d="M27.5 294.0 V336.4" stroke="#8a8a8a" stroke-width=".8"/>
<text transform="translate(72.70,333.4) rotate(-90)" font-size="5.9" fill="#1a1a1a" stroke="#1a1a1a" stroke-width=".3">HSC</text>
<text transform="translate(91.70,333.4) rotate(-90)" font-size="5.9" fill="#1a1a1a" stroke="#1a1a1a" stroke-width=".3">MPP</text>
<text transform="translate(110.70,333.4) rotate(-90)" font-size="5.9" fill="#1a1a1a" stroke="#1a1a1a" stroke-width=".3">CMP</text>
<text transform="translate(129.70,333.4) rotate(-90)" font-size="5.9" fill="#1a1a1a" stroke="#1a1a1a" stroke-width=".3">GMP</text>
<text transform="translate(164.00,333.4) rotate(-90)" font-size="5.9" fill="#1a1a1a" stroke="#1a1a1a" stroke-width=".3">Myelo-</text>
<text transform="translate(171.40,333.4) rotate(-90)" font-size="5.9" fill="#1a1a1a" stroke="#1a1a1a" stroke-width=".3">monoblast</text>
<text transform="translate(205.70,333.4) rotate(-90)" font-size="5.9" fill="#1a1a1a" stroke="#1a1a1a" stroke-width=".3">Promonocyte</text>
<text transform="translate(221.00,333.4) rotate(-90)" font-size="5.9" fill="#1a1a1a" stroke="#1a1a1a" stroke-width=".3">CD14⁻</text>
<text transform="translate(228.40,333.4) rotate(-90)" font-size="5.9" fill="#1a1a1a" stroke="#1a1a1a" stroke-width=".3">monocyte</text>
<text transform="translate(240.00,333.4) rotate(-90)" font-size="5.9" fill="#1a1a1a" stroke="#1a1a1a" stroke-width=".3">CD14⁺</text>
<text transform="translate(247.40,333.4) rotate(-90)" font-size="5.9" fill="#1a1a1a" stroke="#1a1a1a" stroke-width=".3">monocyte</text>
<text transform="translate(281.70,333.4) rotate(-90)" font-size="5.9" fill="#1a1a1a" stroke="#1a1a1a" stroke-width=".3">Promyelocyte</text>
<text transform="translate(300.70,333.4) rotate(-90)" font-size="5.9" fill="#1a1a1a" stroke="#1a1a1a" stroke-width=".3">Myelocyte</text>
<text transform="translate(316.00,333.4) rotate(-90)" font-size="5.9" fill="#1a1a1a" stroke="#1a1a1a" stroke-width=".3">Meta-</text>
<text transform="translate(323.40,333.4) rotate(-90)" font-size="5.9" fill="#1a1a1a" stroke="#1a1a1a" stroke-width=".3">myelocyte</text>
<text transform="translate(335.00,333.4) rotate(-90)" font-size="5.9" fill="#1a1a1a" stroke="#1a1a1a" stroke-width=".3">Mature</text>
<text transform="translate(342.40,333.4) rotate(-90)" font-size="5.9" fill="#1a1a1a" stroke="#1a1a1a" stroke-width=".3">granulocyte</text>
<text transform="translate(373.00,333.4) rotate(-90)" font-size="5.9" fill="#1a1a1a" stroke="#1a1a1a" stroke-width=".3">Pro-</text>
<text transform="translate(380.40,333.4) rotate(-90)" font-size="5.9" fill="#1a1a1a" stroke="#1a1a1a" stroke-width=".3">erythroblast</text>
<text transform="translate(395.70,333.4) rotate(-90)" font-size="5.9" fill="#1a1a1a" stroke="#1a1a1a" stroke-width=".3">Erythroblast</text>
<text transform="translate(433.70,333.4) rotate(-90)" font-size="5.9" fill="#1a1a1a" stroke="#1a1a1a" stroke-width=".3">Pre-B cell</text>
<text transform="translate(452.70,333.4) rotate(-90)" font-size="5.9" fill="#1a1a1a" stroke="#1a1a1a" stroke-width=".3">Mature B cell</text>
<text transform="translate(490.70,333.4) rotate(-90)" font-size="5.9" fill="#1a1a1a" stroke="#1a1a1a" stroke-width=".3">T cell</text>
<text transform="translate(509.70,333.4) rotate(-90)" font-size="5.9" fill="#1a1a1a" stroke="#1a1a1a" stroke-width=".3">NK cell</text>
<path d="M60.5 336.40h19.0v6.13h-19.0zM79.5 336.40h19.0v6.13h-19.0zM98.5 336.40h19.0v6.13h-19.0zM288.5 336.40h19.0v6.13h-19.0zM497.5 336.40h19.0v6.13h-19.0zM79.5 342.53h19.0v6.13h-19.0zM193.5 342.53h19.0v6.13h-19.0zM307.5 342.53h19.0v6.13h-19.0zM326.5 342.53h19.0v6.13h-19.0zM497.5 342.53h19.0v6.13h-19.0zM98.5 348.67h19.0v6.13h-19.0zM307.5 348.67h19.0v6.13h-19.0zM326.5 348.67h19.0v6.13h-19.0zM60.5 354.80h19.0v6.13h-19.0zM79.5 354.80h19.0v6.13h-19.0zM117.5 354.80h19.0v6.13h-19.0zM383.5 354.80h19.0v6.13h-19.0zM98.5 360.93h19.0v6.13h-19.0zM497.5 360.93h19.0v6.13h-19.0zM79.5 373.20h19.0v6.13h-19.0zM117.5 373.20h19.0v6.13h-19.0zM307.5 373.20h19.0v6.13h-19.0zM98.5 379.33h19.0v6.13h-19.0zM79.5 385.47h19.0v6.13h-19.0zM383.5 385.47h19.0v6.13h-19.0zM117.5 391.60h19.0v6.13h-19.0zM364.5 403.87h19.0v6.13h-19.0zM383.5 403.87h19.0v6.13h-19.0zM497.5 410.00h19.0v6.13h-19.0zM60.5 416.13h19.0v6.13h-19.0zM79.5 416.13h19.0v6.13h-19.0zM155.5 416.13h19.0v6.13h-19.0zM326.5 416.13h19.0v6.13h-19.0zM364.5 416.13h19.0v6.13h-19.0zM383.5 416.13h19.0v6.13h-19.0zM98.5 422.27h19.0v6.13h-19.0zM117.5 422.27h19.0v6.13h-19.0zM193.5 422.27h19.0v6.13h-19.0zM288.5 422.27h19.0v6.13h-19.0zM307.5 422.27h19.0v6.13h-19.0zM326.5 422.27h19.0v6.13h-19.0zM364.5 422.27h19.0v6.13h-19.0zM383.5 428.40h19.0v6.13h-19.0zM440.5 428.40h19.0v6.13h-19.0zM60.5 434.53h19.0v6.13h-19.0zM117.5 434.53h19.0v6.13h-19.0zM383.5 434.53h19.0v6.13h-19.0zM383.5 440.67h19.0v6.13h-19.0zM231.5 446.80h19.0v6.13h-19.0zM269.5 446.80h19.0v6.13h-19.0zM307.5 446.80h19.0v6.13h-19.0zM79.5 459.07h19.0v6.13h-19.0zM383.5 459.07h19.0v6.13h-19.0zM212.5 465.20h19.0v6.13h-19.0zM231.5 465.20h19.0v6.13h-19.0zM383.5 465.20h19.0v6.13h-19.0zM60.5 477.47h19.0v6.13h-19.0zM79.5 477.47h19.0v6.13h-19.0zM193.5 477.47h19.0v6.13h-19.0zM212.5 477.47h19.0v6.13h-19.0zM231.5 477.47h19.0v6.13h-19.0zM478.5 477.47h19.0v6.13h-19.0zM98.5 483.60h19.0v6.13h-19.0zM117.5 483.60h19.0v6.13h-19.0zM193.5 483.60h19.0v6.13h-19.0zM231.5 483.60h19.0v6.13h-19.0zM60.5 489.73h19.0v6.13h-19.0zM98.5 489.73h19.0v6.13h-19.0zM212.5 489.73h19.0v6.13h-19.0zM231.5 489.73h19.0v6.13h-19.0zM117.5 495.87h19.0v6.13h-19.0zM193.5 495.87h19.0v6.13h-19.0zM497.5 495.87h19.0v6.13h-19.0zM60.5 502.00h19.0v6.13h-19.0zM155.5 502.00h19.0v6.13h-19.0zM212.5 502.00h19.0v6.13h-19.0zM231.5 502.00h19.0v6.13h-19.0zM60.5 508.13h19.0v6.13h-19.0zM307.5 508.13h19.0v6.13h-19.0zM60.5 520.40h19.0v6.13h-19.0zM383.5 520.40h19.0v6.13h-19.0zM478.5 520.40h19.0v6.13h-19.0zM269.5 526.53h19.0v6.13h-19.0zM383.5 526.53h19.0v6.13h-19.0zM60.5 532.67h19.0v6.13h-19.0zM79.5 532.67h19.0v6.13h-19.0zM98.5 532.67h19.0v6.13h-19.0zM440.5 532.67h19.0v6.13h-19.0zM98.5 544.93h19.0v6.13h-19.0zM231.5 544.93h19.0v6.13h-19.0zM288.5 544.93h19.0v6.13h-19.0zM440.5 544.93h19.0v6.13h-19.0zM497.5 544.93h19.0v6.13h-19.0zM79.5 551.07h19.0v6.13h-19.0zM231.5 551.07h19.0v6.13h-19.0zM269.5 551.07h19.0v6.13h-19.0zM288.5 551.07h19.0v6.13h-19.0zM364.5 551.07h19.0v6.13h-19.0z" fill="#fedf82"/>
<path d="M117.5 336.40h19.0v6.13h-19.0zM193.5 336.40h19.0v6.13h-19.0zM60.5 342.53h19.0v6.13h-19.0zM117.5 342.53h19.0v6.13h-19.0zM231.5 342.53h19.0v6.13h-19.0zM117.5 348.67h19.0v6.13h-19.0zM155.5 348.67h19.0v6.13h-19.0zM288.5 348.67h19.0v6.13h-19.0zM231.5 354.80h19.0v6.13h-19.0zM60.5 360.93h19.0v6.13h-19.0zM79.5 360.93h19.0v6.13h-19.0zM231.5 360.93h19.0v6.13h-19.0zM193.5 373.20h19.0v6.13h-19.0zM364.5 373.20h19.0v6.13h-19.0zM117.5 385.47h19.0v6.13h-19.0zM193.5 385.47h19.0v6.13h-19.0zM231.5 385.47h19.0v6.13h-19.0zM269.5 385.47h19.0v6.13h-19.0zM478.5 391.60h19.0v6.13h-19.0zM79.5 403.87h19.0v6.13h-19.0zM155.5 403.87h19.0v6.13h-19.0zM155.5 410.00h19.0v6.13h-19.0zM117.5 416.13h19.0v6.13h-19.0zM231.5 422.27h19.0v6.13h-19.0zM269.5 422.27h19.0v6.13h-19.0zM98.5 428.40h19.0v6.13h-19.0zM117.5 428.40h19.0v6.13h-19.0zM98.5 434.53h19.0v6.13h-19.0zM193.5 434.53h19.0v6.13h-19.0zM288.5 434.53h19.0v6.13h-19.0zM79.5 440.67h19.0v6.13h-19.0zM231.5 440.67h19.0v6.13h-19.0zM497.5 440.67h19.0v6.13h-19.0zM98.5 446.80h19.0v6.13h-19.0zM117.5 446.80h19.0v6.13h-19.0zM155.5 446.80h19.0v6.13h-19.0zM364.5 446.80h19.0v6.13h-19.0zM288.5 452.93h19.0v6.13h-19.0zM231.5 459.07h19.0v6.13h-19.0zM288.5 459.07h19.0v6.13h-19.0zM326.5 459.07h19.0v6.13h-19.0zM117.5 465.20h19.0v6.13h-19.0zM307.5 465.20h19.0v6.13h-19.0zM364.5 465.20h19.0v6.13h-19.0zM440.5 465.20h19.0v6.13h-19.0zM98.5 477.47h19.0v6.13h-19.0zM155.5 477.47h19.0v6.13h-19.0zM193.5 502.00h19.0v6.13h-19.0zM155.5 508.13h19.0v6.13h-19.0zM212.5 508.13h19.0v6.13h-19.0zM421.5 508.13h19.0v6.13h-19.0zM117.5 520.40h19.0v6.13h-19.0zM155.5 520.40h19.0v6.13h-19.0zM60.5 526.53h19.0v6.13h-19.0zM155.5 526.53h19.0v6.13h-19.0zM231.5 532.67h19.0v6.13h-19.0zM79.5 538.80h19.0v6.13h-19.0zM212.5 538.80h19.0v6.13h-19.0zM307.5 538.80h19.0v6.13h-19.0z" fill="#fdc87d"/>
<path d="M155.5 336.40h19.0v6.13h-19.0zM212.5 336.40h19.0v6.13h-19.0zM231.5 336.40h19.0v6.13h-19.0zM98.5 342.53h19.0v6.13h-19.0zM155.5 342.53h19.0v6.13h-19.0zM364.5 342.53h19.0v6.13h-19.0zM98.5 354.80h19.0v6.13h-19.0zM212.5 354.80h19.0v6.13h-19.0zM98.5 373.20h19.0v6.13h-19.0zM98.5 391.60h19.0v6.13h-19.0zM117.5 403.87h19.0v6.13h-19.0zM231.5 403.87h19.0v6.13h-19.0zM60.5 410.00h19.0v6.13h-19.0zM117.5 410.00h19.0v6.13h-19.0zM231.5 410.00h19.0v6.13h-19.0zM269.5 410.00h19.0v6.13h-19.0zM288.5 410.00h19.0v6.13h-19.0zM326.5 410.00h19.0v6.13h-19.0zM383.5 410.00h19.0v6.13h-19.0zM98.5 416.13h19.0v6.13h-19.0zM193.5 416.13h19.0v6.13h-19.0zM212.5 416.13h19.0v6.13h-19.0zM307.5 416.13h19.0v6.13h-19.0zM60.5 422.27h19.0v6.13h-19.0zM212.5 422.27h19.0v6.13h-19.0zM60.5 428.40h19.0v6.13h-19.0zM79.5 428.40h19.0v6.13h-19.0zM288.5 428.40h19.0v6.13h-19.0zM478.5 428.40h19.0v6.13h-19.0zM79.5 434.53h19.0v6.13h-19.0zM212.5 434.53h19.0v6.13h-19.0zM231.5 434.53h19.0v6.13h-19.0zM60.5 440.67h19.0v6.13h-19.0zM117.5 440.67h19.0v6.13h-19.0zM155.5 440.67h19.0v6.13h-19.0zM288.5 446.80h19.0v6.13h-19.0zM231.5 452.93h19.0v6.13h-19.0zM383.5 452.93h19.0v6.13h-19.0zM117.5 459.07h19.0v6.13h-19.0zM155.5 459.07h19.0v6.13h-19.0zM60.5 465.20h19.0v6.13h-19.0zM79.5 465.20h19.0v6.13h-19.0zM98.5 465.20h19.0v6.13h-19.0zM117.5 477.47h19.0v6.13h-19.0zM60.5 483.60h19.0v6.13h-19.0zM79.5 483.60h19.0v6.13h-19.0zM155.5 483.60h19.0v6.13h-19.0zM212.5 483.60h19.0v6.13h-19.0zM117.5 489.73h19.0v6.13h-19.0zM364.5 489.73h19.0v6.13h-19.0zM440.5 489.73h19.0v6.13h-19.0zM231.5 495.87h19.0v6.13h-19.0zM421.5 495.87h19.0v6.13h-19.0zM98.5 502.00h19.0v6.13h-19.0zM117.5 502.00h19.0v6.13h-19.0zM478.5 502.00h19.0v6.13h-19.0zM79.5 508.13h19.0v6.13h-19.0zM98.5 508.13h19.0v6.13h-19.0zM117.5 508.13h19.0v6.13h-19.0zM326.5 508.13h19.0v6.13h-19.0zM212.5 520.40h19.0v6.13h-19.0zM288.5 520.40h19.0v6.13h-19.0zM364.5 520.40h19.0v6.13h-19.0zM79.5 526.53h19.0v6.13h-19.0zM98.5 526.53h19.0v6.13h-19.0zM117.5 526.53h19.0v6.13h-19.0zM193.5 526.53h19.0v6.13h-19.0zM212.5 526.53h19.0v6.13h-19.0zM117.5 532.67h19.0v6.13h-19.0zM478.5 532.67h19.0v6.13h-19.0zM98.5 538.80h19.0v6.13h-19.0zM117.5 538.80h19.0v6.13h-19.0zM193.5 538.80h19.0v6.13h-19.0zM231.5 538.80h19.0v6.13h-19.0zM478.5 538.80h19.0v6.13h-19.0zM497.5 538.80h19.0v6.13h-19.0zM212.5 544.93h19.0v6.13h-19.0zM307.5 544.93h19.0v6.13h-19.0zM326.5 544.93h19.0v6.13h-19.0zM478.5 544.93h19.0v6.13h-19.0zM155.5 551.07h19.0v6.13h-19.0z" fill="#fed37f"/>
<path d="M269.5 336.40h19.0v6.13h-19.0zM307.5 336.40h19.0v6.13h-19.0zM326.5 336.40h19.0v6.13h-19.0zM364.5 336.40h19.0v6.13h-19.0zM440.5 336.40h19.0v6.13h-19.0zM440.5 348.67h19.0v6.13h-19.0zM497.5 348.67h19.0v6.13h-19.0zM307.5 360.93h19.0v6.13h-19.0zM326.5 360.93h19.0v6.13h-19.0zM440.5 360.93h19.0v6.13h-19.0zM60.5 373.20h19.0v6.13h-19.0zM231.5 373.20h19.0v6.13h-19.0zM326.5 373.20h19.0v6.13h-19.0zM212.5 379.33h19.0v6.13h-19.0zM288.5 379.33h19.0v6.13h-19.0zM497.5 379.33h19.0v6.13h-19.0zM307.5 385.47h19.0v6.13h-19.0zM364.5 385.47h19.0v6.13h-19.0zM60.5 391.60h19.0v6.13h-19.0zM231.5 391.60h19.0v6.13h-19.0zM288.5 391.60h19.0v6.13h-19.0zM440.5 391.60h19.0v6.13h-19.0zM497.5 391.60h19.0v6.13h-19.0zM478.5 403.87h19.0v6.13h-19.0zM497.5 403.87h19.0v6.13h-19.0zM79.5 410.00h19.0v6.13h-19.0zM364.5 410.00h19.0v6.13h-19.0zM478.5 410.00h19.0v6.13h-19.0zM269.5 416.13h19.0v6.13h-19.0zM288.5 416.13h19.0v6.13h-19.0zM440.5 416.13h19.0v6.13h-19.0zM440.5 422.27h19.0v6.13h-19.0zM307.5 428.40h19.0v6.13h-19.0zM497.5 428.40h19.0v6.13h-19.0zM364.5 434.53h19.0v6.13h-19.0zM440.5 434.53h19.0v6.13h-19.0zM364.5 440.67h19.0v6.13h-19.0zM326.5 446.80h19.0v6.13h-19.0zM497.5 446.80h19.0v6.13h-19.0zM440.5 452.93h19.0v6.13h-19.0zM364.5 459.07h19.0v6.13h-19.0zM440.5 459.07h19.0v6.13h-19.0zM478.5 459.07h19.0v6.13h-19.0zM269.5 477.47h19.0v6.13h-19.0zM383.5 477.47h19.0v6.13h-19.0zM326.5 483.60h19.0v6.13h-19.0zM440.5 483.60h19.0v6.13h-19.0zM288.5 489.73h19.0v6.13h-19.0zM383.5 489.73h19.0v6.13h-19.0zM421.5 489.73h19.0v6.13h-19.0zM478.5 489.73h19.0v6.13h-19.0zM497.5 489.73h19.0v6.13h-19.0zM60.5 495.87h19.0v6.13h-19.0zM79.5 495.87h19.0v6.13h-19.0zM269.5 495.87h19.0v6.13h-19.0zM288.5 495.87h19.0v6.13h-19.0zM364.5 495.87h19.0v6.13h-19.0zM440.5 495.87h19.0v6.13h-19.0zM269.5 502.00h19.0v6.13h-19.0zM307.5 502.00h19.0v6.13h-19.0zM326.5 502.00h19.0v6.13h-19.0zM383.5 502.00h19.0v6.13h-19.0zM364.5 508.13h19.0v6.13h-19.0zM383.5 508.13h19.0v6.13h-19.0zM440.5 508.13h19.0v6.13h-19.0zM497.5 508.13h19.0v6.13h-19.0zM421.5 520.40h19.0v6.13h-19.0zM440.5 520.40h19.0v6.13h-19.0zM497.5 520.40h19.0v6.13h-19.0zM440.5 526.53h19.0v6.13h-19.0zM478.5 526.53h19.0v6.13h-19.0zM79.5 544.93h19.0v6.13h-19.0zM117.5 544.93h19.0v6.13h-19.0zM155.5 544.93h19.0v6.13h-19.0zM269.5 544.93h19.0v6.13h-19.0zM383.5 551.07h19.0v6.13h-19.0zM478.5 551.07h19.0v6.13h-19.0zM497.5 551.07h19.0v6.13h-19.0z" fill="#b1d480"/>
<path d="M383.5 336.40h19.0v6.13h-19.0zM478.5 336.40h19.0v6.13h-19.0zM383.5 342.53h19.0v6.13h-19.0zM440.5 342.53h19.0v6.13h-19.0zM478.5 342.53h19.0v6.13h-19.0zM440.5 354.80h19.0v6.13h-19.0zM478.5 354.80h19.0v6.13h-19.0zM440.5 373.20h19.0v6.13h-19.0zM60.5 379.33h19.0v6.13h-19.0zM79.5 379.33h19.0v6.13h-19.0zM307.5 379.33h19.0v6.13h-19.0zM326.5 379.33h19.0v6.13h-19.0zM364.5 379.33h19.0v6.13h-19.0zM383.5 379.33h19.0v6.13h-19.0zM440.5 379.33h19.0v6.13h-19.0zM478.5 379.33h19.0v6.13h-19.0zM440.5 385.47h19.0v6.13h-19.0zM497.5 385.47h19.0v6.13h-19.0zM326.5 391.60h19.0v6.13h-19.0zM440.5 403.87h19.0v6.13h-19.0zM231.5 428.40h19.0v6.13h-19.0zM326.5 428.40h19.0v6.13h-19.0zM440.5 440.67h19.0v6.13h-19.0zM440.5 446.80h19.0v6.13h-19.0zM478.5 446.80h19.0v6.13h-19.0zM288.5 477.47h19.0v6.13h-19.0zM326.5 477.47h19.0v6.13h-19.0zM364.5 477.47h19.0v6.13h-19.0zM364.5 483.60h19.0v6.13h-19.0zM383.5 483.60h19.0v6.13h-19.0zM383.5 495.87h19.0v6.13h-19.0zM364.5 502.00h19.0v6.13h-19.0zM421.5 502.00h19.0v6.13h-19.0zM440.5 502.00h19.0v6.13h-19.0zM231.5 520.40h19.0v6.13h-19.0zM307.5 520.40h19.0v6.13h-19.0zM326.5 520.40h19.0v6.13h-19.0zM326.5 526.53h19.0v6.13h-19.0zM364.5 544.93h19.0v6.13h-19.0zM60.5 563.33h19.0v6.13h-19.0zM79.5 563.33h19.0v6.13h-19.0zM98.5 563.33h19.0v6.13h-19.0zM117.5 563.33h19.0v6.13h-19.0zM155.5 563.33h19.0v6.13h-19.0zM193.5 563.33h19.0v6.13h-19.0zM212.5 563.33h19.0v6.13h-19.0zM231.5 563.33h19.0v6.13h-19.0zM269.5 563.33h19.0v6.13h-19.0zM288.5 563.33h19.0v6.13h-19.0zM307.5 563.33h19.0v6.13h-19.0zM326.5 563.33h19.0v6.13h-19.0zM364.5 563.33h19.0v6.13h-19.0zM383.5 563.33h19.0v6.13h-19.0zM421.5 563.33h19.0v6.13h-19.0zM440.5 563.33h19.0v6.13h-19.0zM478.5 563.33h19.0v6.13h-19.0zM497.5 563.33h19.0v6.13h-19.0zM60.5 569.47h19.0v6.13h-19.0zM79.5 569.47h19.0v6.13h-19.0zM98.5 569.47h19.0v6.13h-19.0zM117.5 569.47h19.0v6.13h-19.0zM155.5 569.47h19.0v6.13h-19.0zM193.5 569.47h19.0v6.13h-19.0zM212.5 569.47h19.0v6.13h-19.0zM231.5 569.47h19.0v6.13h-19.0zM269.5 569.47h19.0v6.13h-19.0zM288.5 569.47h19.0v6.13h-19.0zM307.5 569.47h19.0v6.13h-19.0zM326.5 569.47h19.0v6.13h-19.0zM364.5 569.47h19.0v6.13h-19.0zM383.5 569.47h19.0v6.13h-19.0zM421.5 569.47h19.0v6.13h-19.0zM440.5 569.47h19.0v6.13h-19.0zM478.5 569.47h19.0v6.13h-19.0zM497.5 569.47h19.0v6.13h-19.0zM60.5 575.60h19.0v6.13h-19.0zM79.5 575.60h19.0v6.13h-19.0zM98.5 575.60h19.0v6.13h-19.0zM117.5 575.60h19.0v6.13h-19.0zM155.5 575.60h19.0v6.13h-19.0zM193.5 575.60h19.0v6.13h-19.0zM212.5 575.60h19.0v6.13h-19.0zM231.5 575.60h19.0v6.13h-19.0zM269.5 575.60h19.0v6.13h-19.0zM288.5 575.60h19.0v6.13h-19.0zM307.5 575.60h19.0v6.13h-19.0zM326.5 575.60h19.0v6.13h-19.0zM364.5 575.60h19.0v6.13h-19.0zM383.5 575.60h19.0v6.13h-19.0zM421.5 575.60h19.0v6.13h-19.0zM440.5 575.60h19.0v6.13h-19.0zM478.5 575.60h19.0v6.13h-19.0zM497.5 575.60h19.0v6.13h-19.0zM60.5 581.73h19.0v6.13h-19.0zM79.5 581.73h19.0v6.13h-19.0zM98.5 581.73h19.0v6.13h-19.0zM117.5 581.73h19.0v6.13h-19.0zM155.5 581.73h19.0v6.13h-19.0zM193.5 581.73h19.0v6.13h-19.0zM212.5 581.73h19.0v6.13h-19.0zM231.5 581.73h19.0v6.13h-19.0zM269.5 581.73h19.0v6.13h-19.0zM288.5 581.73h19.0v6.13h-19.0zM307.5 581.73h19.0v6.13h-19.0zM326.5 581.73h19.0v6.13h-19.0zM364.5 581.73h19.0v6.13h-19.0zM383.5 581.73h19.0v6.13h-19.0zM421.5 581.73h19.0v6.13h-19.0zM440.5 581.73h19.0v6.13h-19.0zM478.5 581.73h19.0v6.13h-19.0zM497.5 581.73h19.0v6.13h-19.0zM60.5 587.87h19.0v6.13h-19.0zM79.5 587.87h19.0v6.13h-19.0zM98.5 587.87h19.0v6.13h-19.0zM117.5 587.87h19.0v6.13h-19.0zM155.5 587.87h19.0v6.13h-19.0zM193.5 587.87h19.0v6.13h-19.0zM212.5 587.87h19.0v6.13h-19.0zM231.5 587.87h19.0v6.13h-19.0zM269.5 587.87h19.0v6.13h-19.0zM288.5 587.87h19.0v6.13h-19.0zM307.5 587.87h19.0v6.13h-19.0zM326.5 587.87h19.0v6.13h-19.0zM364.5 587.87h19.0v6.13h-19.0zM383.5 587.87h19.0v6.13h-19.0zM421.5 587.87h19.0v6.13h-19.0zM440.5 587.87h19.0v6.13h-19.0zM478.5 587.87h19.0v6.13h-19.0zM497.5 587.87h19.0v6.13h-19.0zM60.5 594.00h19.0v6.13h-19.0zM79.5 594.00h19.0v6.13h-19.0zM98.5 594.00h19.0v6.13h-19.0zM117.5 594.00h19.0v6.13h-19.0zM155.5 594.00h19.0v6.13h-19.0zM193.5 594.00h19.0v6.13h-19.0zM212.5 594.00h19.0v6.13h-19.0zM231.5 594.00h19.0v6.13h-19.0zM269.5 594.00h19.0v6.13h-19.0zM288.5 594.00h19.0v6.13h-19.0zM307.5 594.00h19.0v6.13h-19.0zM326.5 594.00h19.0v6.13h-19.0zM364.5 594.00h19.0v6.13h-19.0zM383.5 594.00h19.0v6.13h-19.0zM421.5 594.00h19.0v6.13h-19.0zM440.5 594.00h19.0v6.13h-19.0zM478.5 594.00h19.0v6.13h-19.0zM497.5 594.00h19.0v6.13h-19.0zM60.5 600.13h19.0v6.13h-19.0zM79.5 600.13h19.0v6.13h-19.0zM98.5 600.13h19.0v6.13h-19.0zM117.5 600.13h19.0v6.13h-19.0zM155.5 600.13h19.0v6.13h-19.0zM193.5 600.13h19.0v6.13h-19.0zM212.5 600.13h19.0v6.13h-19.0zM231.5 600.13h19.0v6.13h-19.0zM269.5 600.13h19.0v6.13h-19.0zM288.5 600.13h19.0v6.13h-19.0zM307.5 600.13h19.0v6.13h-19.0zM326.5 600.13h19.0v6.13h-19.0zM364.5 600.13h19.0v6.13h-19.0zM383.5 600.13h19.0v6.13h-19.0zM421.5 600.13h19.0v6.13h-19.0zM440.5 600.13h19.0v6.13h-19.0zM478.5 600.13h19.0v6.13h-19.0zM497.5 600.13h19.0v6.13h-19.0zM60.5 606.27h19.0v6.13h-19.0zM79.5 606.27h19.0v6.13h-19.0zM98.5 606.27h19.0v6.13h-19.0zM117.5 606.27h19.0v6.13h-19.0zM155.5 606.27h19.0v6.13h-19.0zM193.5 606.27h19.0v6.13h-19.0zM212.5 606.27h19.0v6.13h-19.0zM231.5 606.27h19.0v6.13h-19.0zM269.5 606.27h19.0v6.13h-19.0zM288.5 606.27h19.0v6.13h-19.0zM307.5 606.27h19.0v6.13h-19.0zM326.5 606.27h19.0v6.13h-19.0zM364.5 606.27h19.0v6.13h-19.0zM383.5 606.27h19.0v6.13h-19.0zM421.5 606.27h19.0v6.13h-19.0zM440.5 606.27h19.0v6.13h-19.0zM478.5 606.27h19.0v6.13h-19.0zM497.5 606.27h19.0v6.13h-19.0zM60.5 612.40h19.0v6.13h-19.0zM79.5 612.40h19.0v6.13h-19.0zM98.5 612.40h19.0v6.13h-19.0zM117.5 612.40h19.0v6.13h-19.0zM155.5 612.40h19.0v6.13h-19.0zM193.5 612.40h19.0v6.13h-19.0zM212.5 612.40h19.0v6.13h-19.0zM231.5 612.40h19.0v6.13h-19.0zM269.5 612.40h19.0v6.13h-19.0zM288.5 612.40h19.0v6.13h-19.0zM307.5 612.40h19.0v6.13h-19.0zM326.5 612.40h19.0v6.13h-19.0zM364.5 612.40h19.0v6.13h-19.0zM383.5 612.40h19.0v6.13h-19.0zM421.5 612.40h19.0v6.13h-19.0zM440.5 612.40h19.0v6.13h-19.0zM478.5 612.40h19.0v6.13h-19.0zM497.5 612.40h19.0v6.13h-19.0zM60.5 618.53h19.0v6.13h-19.0zM79.5 618.53h19.0v6.13h-19.0zM98.5 618.53h19.0v6.13h-19.0zM117.5 618.53h19.0v6.13h-19.0zM155.5 618.53h19.0v6.13h-19.0zM193.5 618.53h19.0v6.13h-19.0zM212.5 618.53h19.0v6.13h-19.0zM231.5 618.53h19.0v6.13h-19.0zM269.5 618.53h19.0v6.13h-19.0zM288.5 618.53h19.0v6.13h-19.0zM307.5 618.53h19.0v6.13h-19.0zM326.5 618.53h19.0v6.13h-19.0zM364.5 618.53h19.0v6.13h-19.0zM383.5 618.53h19.0v6.13h-19.0zM421.5 618.53h19.0v6.13h-19.0zM440.5 618.53h19.0v6.13h-19.0zM478.5 618.53h19.0v6.13h-19.0zM497.5 618.53h19.0v6.13h-19.0zM60.5 624.67h19.0v6.13h-19.0zM79.5 624.67h19.0v6.13h-19.0zM98.5 624.67h19.0v6.13h-19.0zM117.5 624.67h19.0v6.13h-19.0zM155.5 624.67h19.0v6.13h-19.0zM193.5 624.67h19.0v6.13h-19.0zM212.5 624.67h19.0v6.13h-19.0zM231.5 624.67h19.0v6.13h-19.0zM269.5 624.67h19.0v6.13h-19.0zM288.5 624.67h19.0v6.13h-19.0zM307.5 624.67h19.0v6.13h-19.0zM326.5 624.67h19.0v6.13h-19.0zM364.5 624.67h19.0v6.13h-19.0zM383.5 624.67h19.0v6.13h-19.0zM421.5 624.67h19.0v6.13h-19.0zM440.5 624.67h19.0v6.13h-19.0zM478.5 624.67h19.0v6.13h-19.0zM497.5 624.67h19.0v6.13h-19.0zM60.5 630.80h19.0v6.13h-19.0zM79.5 630.80h19.0v6.13h-19.0zM98.5 630.80h19.0v6.13h-19.0zM117.5 630.80h19.0v6.13h-19.0zM155.5 630.80h19.0v6.13h-19.0zM193.5 630.80h19.0v6.13h-19.0zM212.5 630.80h19.0v6.13h-19.0zM231.5 630.80h19.0v6.13h-19.0zM269.5 630.80h19.0v6.13h-19.0zM288.5 630.80h19.0v6.13h-19.0zM307.5 630.80h19.0v6.13h-19.0zM326.5 630.80h19.0v6.13h-19.0zM364.5 630.80h19.0v6.13h-19.0zM383.5 630.80h19.0v6.13h-19.0zM421.5 630.80h19.0v6.13h-19.0zM440.5 630.80h19.0v6.13h-19.0zM478.5 630.80h19.0v6.13h-19.0zM497.5 630.80h19.0v6.13h-19.0zM60.5 636.93h19.0v6.13h-19.0zM79.5 636.93h19.0v6.13h-19.0zM98.5 636.93h19.0v6.13h-19.0zM117.5 636.93h19.0v6.13h-19.0zM155.5 636.93h19.0v6.13h-19.0zM193.5 636.93h19.0v6.13h-19.0zM212.5 636.93h19.0v6.13h-19.0zM231.5 636.93h19.0v6.13h-19.0zM269.5 636.93h19.0v6.13h-19.0zM288.5 636.93h19.0v6.13h-19.0zM307.5 636.93h19.0v6.13h-19.0zM326.5 636.93h19.0v6.13h-19.0zM364.5 636.93h19.0v6.13h-19.0zM383.5 636.93h19.0v6.13h-19.0zM421.5 636.93h19.0v6.13h-19.0zM440.5 636.93h19.0v6.13h-19.0zM478.5 636.93h19.0v6.13h-19.0zM497.5 636.93h19.0v6.13h-19.0zM60.5 643.07h19.0v6.13h-19.0zM79.5 643.07h19.0v6.13h-19.0zM98.5 643.07h19.0v6.13h-19.0zM117.5 643.07h19.0v6.13h-19.0zM155.5 643.07h19.0v6.13h-19.0zM193.5 643.07h19.0v6.13h-19.0zM212.5 643.07h19.0v6.13h-19.0zM231.5 643.07h19.0v6.13h-19.0zM269.5 643.07h19.0v6.13h-19.0zM288.5 643.07h19.0v6.13h-19.0zM307.5 643.07h19.0v6.13h-19.0zM326.5 643.07h19.0v6.13h-19.0zM364.5 643.07h19.0v6.13h-19.0zM383.5 643.07h19.0v6.13h-19.0zM421.5 643.07h19.0v6.13h-19.0zM440.5 643.07h19.0v6.13h-19.0zM478.5 643.07h19.0v6.13h-19.0zM497.5 643.07h19.0v6.13h-19.0z" fill="#63be7b"/>
<path d="M421.5 336.40h19.0v6.13h-19.0zM364.5 348.67h19.0v6.13h-19.0zM288.5 360.93h19.0v6.13h-19.0zM269.5 373.20h19.0v6.13h-19.0zM212.5 403.87h19.0v6.13h-19.0zM421.5 403.87h19.0v6.13h-19.0zM193.5 452.93h19.0v6.13h-19.0zM212.5 452.93h19.0v6.13h-19.0zM307.5 452.93h19.0v6.13h-19.0zM421.5 452.93h19.0v6.13h-19.0zM497.5 459.07h19.0v6.13h-19.0zM421.5 477.47h19.0v6.13h-19.0zM193.5 489.73h19.0v6.13h-19.0zM193.5 532.67h19.0v6.13h-19.0z" fill="#fb9874"/>
<path d="M212.5 342.53h19.0v6.13h-19.0zM269.5 348.67h19.0v6.13h-19.0zM288.5 354.80h19.0v6.13h-19.0zM212.5 360.93h19.0v6.13h-19.0zM269.5 360.93h19.0v6.13h-19.0zM364.5 360.93h19.0v6.13h-19.0zM288.5 385.47h19.0v6.13h-19.0zM193.5 391.60h19.0v6.13h-19.0zM269.5 391.60h19.0v6.13h-19.0zM364.5 391.60h19.0v6.13h-19.0zM193.5 403.87h19.0v6.13h-19.0zM269.5 403.87h19.0v6.13h-19.0zM98.5 410.00h19.0v6.13h-19.0zM421.5 416.13h19.0v6.13h-19.0zM421.5 422.27h19.0v6.13h-19.0zM98.5 440.67h19.0v6.13h-19.0zM212.5 446.80h19.0v6.13h-19.0zM98.5 452.93h19.0v6.13h-19.0zM269.5 452.93h19.0v6.13h-19.0zM193.5 459.07h19.0v6.13h-19.0zM269.5 465.20h19.0v6.13h-19.0zM421.5 465.20h19.0v6.13h-19.0zM269.5 508.13h19.0v6.13h-19.0zM269.5 520.40h19.0v6.13h-19.0zM364.5 532.67h19.0v6.13h-19.0zM421.5 544.93h19.0v6.13h-19.0z" fill="#fba476"/>
<path d="M269.5 342.53h19.0v6.13h-19.0zM288.5 342.53h19.0v6.13h-19.0zM193.5 348.67h19.0v6.13h-19.0zM212.5 348.67h19.0v6.13h-19.0zM231.5 348.67h19.0v6.13h-19.0zM155.5 354.80h19.0v6.13h-19.0zM326.5 354.80h19.0v6.13h-19.0zM155.5 360.93h19.0v6.13h-19.0zM155.5 373.20h19.0v6.13h-19.0zM155.5 379.33h19.0v6.13h-19.0zM269.5 379.33h19.0v6.13h-19.0zM98.5 385.47h19.0v6.13h-19.0zM212.5 385.47h19.0v6.13h-19.0zM155.5 391.60h19.0v6.13h-19.0zM212.5 391.60h19.0v6.13h-19.0zM60.5 403.87h19.0v6.13h-19.0zM193.5 410.00h19.0v6.13h-19.0zM212.5 410.00h19.0v6.13h-19.0zM307.5 410.00h19.0v6.13h-19.0zM421.5 410.00h19.0v6.13h-19.0zM155.5 422.27h19.0v6.13h-19.0zM155.5 428.40h19.0v6.13h-19.0zM193.5 428.40h19.0v6.13h-19.0zM155.5 434.53h19.0v6.13h-19.0zM193.5 446.80h19.0v6.13h-19.0zM79.5 452.93h19.0v6.13h-19.0zM117.5 452.93h19.0v6.13h-19.0zM364.5 452.93h19.0v6.13h-19.0zM497.5 452.93h19.0v6.13h-19.0zM212.5 459.07h19.0v6.13h-19.0zM269.5 459.07h19.0v6.13h-19.0zM307.5 459.07h19.0v6.13h-19.0zM288.5 465.20h19.0v6.13h-19.0zM326.5 465.20h19.0v6.13h-19.0zM421.5 483.60h19.0v6.13h-19.0zM155.5 489.73h19.0v6.13h-19.0zM212.5 495.87h19.0v6.13h-19.0zM421.5 526.53h19.0v6.13h-19.0zM155.5 532.67h19.0v6.13h-19.0zM421.5 532.67h19.0v6.13h-19.0zM60.5 538.80h19.0v6.13h-19.0zM155.5 538.80h19.0v6.13h-19.0zM421.5 538.80h19.0v6.13h-19.0zM98.5 551.07h19.0v6.13h-19.0zM307.5 551.07h19.0v6.13h-19.0z" fill="#fcbc7b"/>
<path d="M421.5 342.53h19.0v6.13h-19.0zM421.5 348.67h19.0v6.13h-19.0zM269.5 354.80h19.0v6.13h-19.0zM421.5 360.93h19.0v6.13h-19.0zM288.5 403.87h19.0v6.13h-19.0zM269.5 434.53h19.0v6.13h-19.0zM421.5 434.53h19.0v6.13h-19.0zM193.5 520.40h19.0v6.13h-19.0zM307.5 532.67h19.0v6.13h-19.0z" fill="#fa8c72"/>
<path d="M60.5 348.67h19.0v6.13h-19.0zM79.5 348.67h19.0v6.13h-19.0zM383.5 348.67h19.0v6.13h-19.0zM478.5 348.67h19.0v6.13h-19.0zM497.5 354.80h19.0v6.13h-19.0zM383.5 360.93h19.0v6.13h-19.0zM478.5 360.93h19.0v6.13h-19.0zM383.5 373.20h19.0v6.13h-19.0zM478.5 373.20h19.0v6.13h-19.0zM497.5 373.20h19.0v6.13h-19.0zM117.5 379.33h19.0v6.13h-19.0zM193.5 379.33h19.0v6.13h-19.0zM231.5 379.33h19.0v6.13h-19.0zM60.5 385.47h19.0v6.13h-19.0zM326.5 385.47h19.0v6.13h-19.0zM478.5 385.47h19.0v6.13h-19.0zM79.5 391.60h19.0v6.13h-19.0zM307.5 391.60h19.0v6.13h-19.0zM383.5 391.60h19.0v6.13h-19.0zM307.5 403.87h19.0v6.13h-19.0zM326.5 403.87h19.0v6.13h-19.0zM440.5 410.00h19.0v6.13h-19.0zM231.5 416.13h19.0v6.13h-19.0zM478.5 416.13h19.0v6.13h-19.0zM497.5 416.13h19.0v6.13h-19.0zM79.5 422.27h19.0v6.13h-19.0zM383.5 422.27h19.0v6.13h-19.0zM478.5 422.27h19.0v6.13h-19.0zM497.5 422.27h19.0v6.13h-19.0zM212.5 428.40h19.0v6.13h-19.0zM364.5 428.40h19.0v6.13h-19.0zM421.5 428.40h19.0v6.13h-19.0zM307.5 434.53h19.0v6.13h-19.0zM326.5 434.53h19.0v6.13h-19.0zM478.5 434.53h19.0v6.13h-19.0zM497.5 434.53h19.0v6.13h-19.0zM269.5 440.67h19.0v6.13h-19.0zM288.5 440.67h19.0v6.13h-19.0zM307.5 440.67h19.0v6.13h-19.0zM326.5 440.67h19.0v6.13h-19.0zM478.5 440.67h19.0v6.13h-19.0zM60.5 446.80h19.0v6.13h-19.0zM79.5 446.80h19.0v6.13h-19.0zM383.5 446.80h19.0v6.13h-19.0zM478.5 452.93h19.0v6.13h-19.0zM60.5 459.07h19.0v6.13h-19.0zM478.5 465.20h19.0v6.13h-19.0zM497.5 465.20h19.0v6.13h-19.0zM307.5 477.47h19.0v6.13h-19.0zM440.5 477.47h19.0v6.13h-19.0zM497.5 477.47h19.0v6.13h-19.0zM269.5 483.60h19.0v6.13h-19.0zM288.5 483.60h19.0v6.13h-19.0zM307.5 483.60h19.0v6.13h-19.0zM478.5 483.60h19.0v6.13h-19.0zM497.5 483.60h19.0v6.13h-19.0zM79.5 489.73h19.0v6.13h-19.0zM269.5 489.73h19.0v6.13h-19.0zM307.5 489.73h19.0v6.13h-19.0zM326.5 489.73h19.0v6.13h-19.0zM155.5 495.87h19.0v6.13h-19.0zM307.5 495.87h19.0v6.13h-19.0zM326.5 495.87h19.0v6.13h-19.0zM478.5 495.87h19.0v6.13h-19.0zM79.5 502.00h19.0v6.13h-19.0zM288.5 502.00h19.0v6.13h-19.0zM497.5 502.00h19.0v6.13h-19.0zM231.5 508.13h19.0v6.13h-19.0zM478.5 508.13h19.0v6.13h-19.0zM79.5 520.40h19.0v6.13h-19.0zM98.5 520.40h19.0v6.13h-19.0zM231.5 526.53h19.0v6.13h-19.0zM288.5 526.53h19.0v6.13h-19.0zM307.5 526.53h19.0v6.13h-19.0zM364.5 526.53h19.0v6.13h-19.0zM497.5 526.53h19.0v6.13h-19.0zM383.5 532.67h19.0v6.13h-19.0zM497.5 532.67h19.0v6.13h-19.0zM326.5 538.80h19.0v6.13h-19.0zM364.5 538.80h19.0v6.13h-19.0zM383.5 538.80h19.0v6.13h-19.0zM440.5 538.80h19.0v6.13h-19.0zM60.5 544.93h19.0v6.13h-19.0zM193.5 544.93h19.0v6.13h-19.0zM383.5 544.93h19.0v6.13h-19.0zM60.5 551.07h19.0v6.13h-19.0zM117.5 551.07h19.0v6.13h-19.0zM193.5 551.07h19.0v6.13h-19.0zM212.5 551.07h19.0v6.13h-19.0zM440.5 551.07h19.0v6.13h-19.0z" fill="#ffeb84"/>
<path d="M193.5 354.80h19.0v6.13h-19.0zM307.5 354.80h19.0v6.13h-19.0zM364.5 354.80h19.0v6.13h-19.0zM117.5 360.93h19.0v6.13h-19.0zM193.5 360.93h19.0v6.13h-19.0zM212.5 373.20h19.0v6.13h-19.0zM155.5 385.47h19.0v6.13h-19.0zM98.5 403.87h19.0v6.13h-19.0zM269.5 428.40h19.0v6.13h-19.0zM193.5 440.67h19.0v6.13h-19.0zM212.5 440.67h19.0v6.13h-19.0zM60.5 452.93h19.0v6.13h-19.0zM155.5 452.93h19.0v6.13h-19.0zM326.5 452.93h19.0v6.13h-19.0zM98.5 459.07h19.0v6.13h-19.0zM155.5 465.20h19.0v6.13h-19.0zM98.5 495.87h19.0v6.13h-19.0zM193.5 508.13h19.0v6.13h-19.0zM212.5 532.67h19.0v6.13h-19.0zM269.5 532.67h19.0v6.13h-19.0zM326.5 532.67h19.0v6.13h-19.0zM288.5 538.80h19.0v6.13h-19.0zM326.5 551.07h19.0v6.13h-19.0zM421.5 551.07h19.0v6.13h-19.0z" fill="#fcb079"/>
<path d="M421.5 354.80h19.0v6.13h-19.0zM421.5 385.47h19.0v6.13h-19.0zM421.5 440.67h19.0v6.13h-19.0zM421.5 446.80h19.0v6.13h-19.0zM193.5 465.20h19.0v6.13h-19.0zM288.5 508.13h19.0v6.13h-19.0zM269.5 538.80h19.0v6.13h-19.0z" fill="#f98170"/>
<path d="M288.5 373.20h19.0v6.13h-19.0zM421.5 379.33h19.0v6.13h-19.0zM421.5 391.60h19.0v6.13h-19.0zM421.5 459.07h19.0v6.13h-19.0zM288.5 532.67h19.0v6.13h-19.0z" fill="#f9756d"/>
<path d="M421.5 373.20h19.0v6.13h-19.0z" fill="#f8696b"/>
<g font-size="4.45" font-weight="bold" fill="#2a2a2a" stroke="#2a2a2a" stroke-width=".08" text-anchor="middle"><text x="18.0" y="341.27">AML26</text><text x="18.0" y="347.40">AML35</text><text x="18.0" y="353.53">AML5</text><text x="18.0" y="359.67">AML10</text><text x="18.0" y="365.80">AML32</text><text x="18.0" y="378.07">APL5</text><text x="18.0" y="384.20">APL3</text><text x="18.0" y="390.33">APL4</text><text x="18.0" y="396.47">APL1</text><text x="18.0" y="408.73">AML27</text><text x="18.0" y="414.87">AML7</text><text x="18.0" y="421.00">AML9</text><text x="18.0" y="427.13">AML20</text><text x="18.0" y="433.27">AML21</text><text x="18.0" y="439.40">AML23</text><text x="18.0" y="445.53">AML30</text><text x="18.0" y="451.67">AML36</text><text x="18.0" y="457.80">AML37</text><text x="18.0" y="463.93">AML38</text><text x="18.0" y="470.07">AML40</text><text x="18.0" y="482.33">AML13</text><text x="18.0" y="488.47">AML36</text><text x="18.0" y="494.60">AML33</text><text x="18.0" y="500.73">AML42</text><text x="18.0" y="506.87">AML14</text><text x="18.0" y="513.00">AML15</text><text x="18.0" y="525.27">AML18</text><text x="18.0" y="531.40">AML4</text><text x="18.0" y="537.53">AML19</text><text x="18.0" y="543.67">AML29</text><text x="18.0" y="549.80">AML41</text><text x="18.0" y="555.93">AML25</text><text x="18.0" y="568.20">NI-1</text><text x="18.0" y="574.33">NI-3</text><text x="18.0" y="580.47">NI-5</text><text x="18.0" y="586.60">NI-6</text><text x="18.0" y="592.73">NL-6</text><text x="18.0" y="598.87">NI-4</text><text x="18.0" y="605.00">NI-5</text><text x="18.0" y="611.13">NL-6</text><text x="18.0" y="617.27">NI-4</text><text x="18.0" y="623.40">NI-5</text><text x="18.0" y="629.53">NL-6</text><text x="18.0" y="635.67">NI-3</text><text x="18.0" y="641.80">NI-4</text><text x="18.0" y="647.93">NI-5</text></g>
<g font-size="5.1" font-weight="bold" fill="#000" fill-opacity=".7" stroke="#000" stroke-opacity=".3" stroke-width=".1" text-anchor="middle"><text x="70.0" y="341.22">3</text><text x="89.0" y="341.22">3</text><text x="108.0" y="341.22">3</text><text x="127.0" y="341.22">5</text><text x="165.0" y="341.22">4</text><text x="203.0" y="341.22">5</text><text x="222.0" y="341.22">4</text><text x="241.0" y="341.22">4</text><text x="279.0" y="341.22">1</text><text x="298.0" y="341.22">3</text><text x="317.0" y="341.22">1</text><text x="336.0" y="341.22">1</text><text x="374.0" y="341.22">1</text><text x="393.0" y="341.22">0</text><text x="431.0" y="341.22">9</text><text x="450.0" y="341.22">1</text><text x="488.0" y="341.22">0</text><text x="507.0" y="341.22">3</text><text x="70.0" y="347.35">5</text><text x="89.0" y="347.35">3</text><text x="108.0" y="347.35">4</text><text x="127.0" y="347.35">5</text><text x="165.0" y="347.35">4</text><text x="203.0" y="347.35">3</text><text x="222.0" y="347.35">8</text><text x="241.0" y="347.35">5</text><text x="279.0" y="347.35">6</text><text x="298.0" y="347.35">6</text><text x="317.0" y="347.35">3</text><text x="336.0" y="347.35">3</text><text x="374.0" y="347.35">4</text><text x="393.0" y="347.35">0</text><text x="431.0" y="347.35">10</text><text x="450.0" y="347.35">0</text><text x="488.0" y="347.35">0</text><text x="507.0" y="347.35">3</text><text x="70.0" y="353.48">2</text><text x="89.0" y="353.48">2</text><text x="108.0" y="353.48">3</text><text x="127.0" y="353.48">5</text><text x="165.0" y="353.48">5</text><text x="203.0" y="353.48">6</text><text x="222.0" y="353.48">6</text><text x="241.0" y="353.48">6</text><text x="279.0" y="353.48">8</text><text x="298.0" y="353.48">5</text><text x="317.0" y="353.48">3</text><text x="336.0" y="353.48">3</text><text x="374.0" y="353.48">9</text><text x="393.0" y="353.48">2</text><text x="431.0" y="353.48">10</text><text x="450.0" y="353.48">1</text><text x="488.0" y="353.48">2</text><text x="507.0" y="353.48">1</text><text x="70.0" y="359.62">3</text><text x="89.0" y="359.62">3</text><text x="108.0" y="359.62">4</text><text x="127.0" y="359.62">3</text><text x="165.0" y="359.62">6</text><text x="203.0" y="359.62">7</text><text x="222.0" y="359.62">4</text><text x="241.0" y="359.62">5</text><text x="279.0" y="359.62">10</text><text x="298.0" y="359.62">8</text><text x="317.0" y="359.62">7</text><text x="336.0" y="359.62">6</text><text x="374.0" y="359.62">7</text><text x="393.0" y="359.62">3</text><text x="431.0" y="359.62">11</text><text x="450.0" y="359.62">0</text><text x="488.0" y="359.62">0</text><text x="507.0" y="359.62">2</text><text x="70.0" y="365.75">5</text><text x="89.0" y="365.75">5</text><text x="108.0" y="365.75">3</text><text x="127.0" y="365.75">7</text><text x="165.0" y="365.75">6</text><text x="203.0" y="365.75">7</text><text x="222.0" y="365.75">8</text><text x="241.0" y="365.75">5</text><text x="279.0" y="365.75">8</text><text x="298.0" y="365.75">9</text><text x="317.0" y="365.75">1</text><text x="336.0" y="365.75">1</text><text x="374.0" y="365.75">8</text><text x="393.0" y="365.75">2</text><text x="431.0" y="365.75">10</text><text x="450.0" y="365.75">1</text><text x="488.0" y="365.75">2</text><text x="507.0" y="365.75">3</text><text x="70.0" y="378.02">1</text><text x="89.0" y="378.02">3</text><text x="108.0" y="378.02">4</text><text x="127.0" y="378.02">3</text><text x="165.0" y="378.02">6</text><text x="203.0" y="378.02">5</text><text x="222.0" y="378.02">7</text><text x="241.0" y="378.02">1</text><text x="279.0" y="378.02">9</text><text x="298.0" y="378.02">12</text><text x="317.0" y="378.02">3</text><text x="336.0" y="378.02">1</text><text x="374.0" y="378.02">5</text><text x="393.0" y="378.02">2</text><text x="431.0" y="378.02">13</text><text x="450.0" y="378.02">0</text><text x="488.0" y="378.02">2</text><text x="507.0" y="378.02">2</text><text x="70.0" y="384.15">0</text><text x="89.0" y="384.15">0</text><text x="108.0" y="384.15">3</text><text x="127.0" y="384.15">2</text><text x="165.0" y="384.15">6</text><text x="203.0" y="384.15">2</text><text x="222.0" y="384.15">1</text><text x="241.0" y="384.15">2</text><text x="279.0" y="384.15">6</text><text x="298.0" y="384.15">1</text><text x="317.0" y="384.15">0</text><text x="336.0" y="384.15">0</text><text x="374.0" y="384.15">0</text><text x="393.0" y="384.15">0</text><text x="431.0" y="384.15">12</text><text x="450.0" y="384.15">0</text><text x="488.0" y="384.15">0</text><text x="507.0" y="384.15">1</text><text x="70.0" y="390.28">2</text><text x="89.0" y="390.28">3</text><text x="108.0" y="390.28">6</text><text x="127.0" y="390.28">5</text><text x="165.0" y="390.28">7</text><text x="203.0" y="390.28">5</text><text x="222.0" y="390.28">6</text><text x="241.0" y="390.28">5</text><text x="279.0" y="390.28">5</text><text x="298.0" y="390.28">8</text><text x="317.0" y="390.28">1</text><text x="336.0" y="390.28">2</text><text x="374.0" y="390.28">1</text><text x="393.0" y="390.28">3</text><text x="431.0" y="390.28">11</text><text x="450.0" y="390.28">0</text><text x="488.0" y="390.28">2</text><text x="507.0" y="390.28">0</text><text x="70.0" y="396.42">1</text><text x="89.0" y="396.42">2</text><text x="108.0" y="396.42">4</text><text x="127.0" y="396.42">3</text><text x="165.0" y="396.42">6</text><text x="203.0" y="396.42">8</text><text x="222.0" y="396.42">6</text><text x="241.0" y="396.42">1</text><text x="279.0" y="396.42">8</text><text x="298.0" y="396.42">1</text><text x="317.0" y="396.42">2</text><text x="336.0" y="396.42">0</text><text x="374.0" y="396.42">8</text><text x="393.0" y="396.42">2</text><text x="431.0" y="396.42">12</text><text x="450.0" y="396.42">1</text><text x="488.0" y="396.42">5</text><text x="507.0" y="396.42">1</text><text x="70.0" y="408.68">6</text><text x="89.0" y="408.68">5</text><text x="108.0" y="408.68">7</text><text x="127.0" y="408.68">4</text><text x="165.0" y="408.68">5</text><text x="203.0" y="408.68">8</text><text x="222.0" y="408.68">9</text><text x="241.0" y="408.68">4</text><text x="279.0" y="408.68">8</text><text x="298.0" y="408.68">10</text><text x="317.0" y="408.68">2</text><text x="336.0" y="408.68">2</text><text x="374.0" y="408.68">3</text><text x="393.0" y="408.68">3</text><text x="431.0" y="408.68">9</text><text x="450.0" y="408.68">0</text><text x="488.0" y="408.68">1</text><text x="507.0" y="408.68">1</text><text x="70.0" y="414.82">4</text><text x="89.0" y="414.82">1</text><text x="108.0" y="414.82">8</text><text x="127.0" y="414.82">4</text><text x="165.0" y="414.82">5</text><text x="203.0" y="414.82">6</text><text x="222.0" y="414.82">6</text><text x="241.0" y="414.82">4</text><text x="279.0" y="414.82">4</text><text x="298.0" y="414.82">4</text><text x="317.0" y="414.82">6</text><text x="336.0" y="414.82">4</text><text x="374.0" y="414.82">1</text><text x="393.0" y="414.82">4</text><text x="431.0" y="414.82">6</text><text x="450.0" y="414.82">2</text><text x="488.0" y="414.82">1</text><text x="507.0" y="414.82">3</text><text x="70.0" y="420.95">3</text><text x="89.0" y="420.95">3</text><text x="108.0" y="420.95">4</text><text x="127.0" y="420.95">5</text><text x="165.0" y="420.95">3</text><text x="203.0" y="420.95">4</text><text x="222.0" y="420.95">4</text><text x="241.0" y="420.95">2</text><text x="279.0" y="420.95">1</text><text x="298.0" y="420.95">1</text><text x="317.0" y="420.95">4</text><text x="336.0" y="420.95">3</text><text x="374.0" y="420.95">3</text><text x="393.0" y="420.95">3</text><text x="431.0" y="420.95">8</text><text x="450.0" y="420.95">1</text><text x="488.0" y="420.95">2</text><text x="507.0" y="420.95">2</text><text x="70.0" y="427.08">4</text><text x="89.0" y="427.08">2</text><text x="108.0" y="427.08">3</text><text x="127.0" y="427.08">3</text><text x="165.0" y="427.08">6</text><text x="203.0" y="427.08">3</text><text x="222.0" y="427.08">4</text><text x="241.0" y="427.08">5</text><text x="279.0" y="427.08">5</text><text x="298.0" y="427.08">3</text><text x="317.0" y="427.08">3</text><text x="336.0" y="427.08">3</text><text x="374.0" y="427.08">3</text><text x="393.0" y="427.08">2</text><text x="431.0" y="427.08">8</text><text x="450.0" y="427.08">1</text><text x="488.0" y="427.08">2</text><text x="507.0" y="427.08">2</text><text x="70.0" y="433.22">4</text><text x="89.0" y="433.22">4</text><text x="108.0" y="433.22">5</text><text x="127.0" y="433.22">5</text><text x="165.0" y="433.22">6</text><text x="203.0" y="433.22">6</text><text x="222.0" y="433.22">2</text><text x="241.0" y="433.22">0</text><text x="279.0" y="433.22">7</text><text x="298.0" y="433.22">4</text><text x="317.0" y="433.22">1</text><text x="336.0" y="433.22">0</text><text x="374.0" y="433.22">2</text><text x="393.0" y="433.22">3</text><text x="431.0" y="433.22">2</text><text x="450.0" y="433.22">3</text><text x="488.0" y="433.22">4</text><text x="507.0" y="433.22">1</text><text x="70.0" y="439.35">3</text><text x="89.0" y="439.35">4</text><text x="108.0" y="439.35">5</text><text x="127.0" y="439.35">3</text><text x="165.0" y="439.35">6</text><text x="203.0" y="439.35">5</text><text x="222.0" y="439.35">4</text><text x="241.0" y="439.35">4</text><text x="279.0" y="439.35">10</text><text x="298.0" y="439.35">5</text><text x="317.0" y="439.35">2</text><text x="336.0" y="439.35">2</text><text x="374.0" y="439.35">1</text><text x="393.0" y="439.35">3</text><text x="431.0" y="439.35">10</text><text x="450.0" y="439.35">1</text><text x="488.0" y="439.35">2</text><text x="507.0" y="439.35">2</text><text x="70.0" y="445.48">4</text><text x="89.0" y="445.48">5</text><text x="108.0" y="445.48">8</text><text x="127.0" y="445.48">4</text><text x="165.0" y="445.48">4</text><text x="203.0" y="445.48">7</text><text x="222.0" y="445.48">7</text><text x="241.0" y="445.48">5</text><text x="279.0" y="445.48">2</text><text x="298.0" y="445.48">2</text><text x="317.0" y="445.48">2</text><text x="336.0" y="445.48">2</text><text x="374.0" y="445.48">1</text><text x="393.0" y="445.48">3</text><text x="431.0" y="445.48">11</text><text x="450.0" y="445.48">0</text><text x="488.0" y="445.48">2</text><text x="507.0" y="445.48">5</text><text x="70.0" y="451.62">2</text><text x="89.0" y="451.62">2</text><text x="108.0" y="451.62">5</text><text x="127.0" y="451.62">5</text><text x="165.0" y="451.62">5</text><text x="203.0" y="451.62">6</text><text x="222.0" y="451.62">8</text><text x="241.0" y="451.62">3</text><text x="279.0" y="451.62">3</text><text x="298.0" y="451.62">4</text><text x="317.0" y="451.62">3</text><text x="336.0" y="451.62">1</text><text x="374.0" y="451.62">5</text><text x="393.0" y="451.62">2</text><text x="431.0" y="451.62">11</text><text x="450.0" y="451.62">0</text><text x="488.0" y="451.62">0</text><text x="507.0" y="451.62">1</text><text x="70.0" y="457.75">7</text><text x="89.0" y="457.75">6</text><text x="108.0" y="457.75">8</text><text x="127.0" y="457.75">6</text><text x="165.0" y="457.75">7</text><text x="203.0" y="457.75">9</text><text x="222.0" y="457.75">9</text><text x="241.0" y="457.75">4</text><text x="279.0" y="457.75">8</text><text x="298.0" y="457.75">5</text><text x="317.0" y="457.75">9</text><text x="336.0" y="457.75">7</text><text x="374.0" y="457.75">6</text><text x="393.0" y="457.75">4</text><text x="431.0" y="457.75">9</text><text x="450.0" y="457.75">1</text><text x="488.0" y="457.75">2</text><text x="507.0" y="457.75">6</text><text x="70.0" y="463.88">2</text><text x="89.0" y="463.88">3</text><text x="108.0" y="463.88">7</text><text x="127.0" y="463.88">4</text><text x="165.0" y="463.88">4</text><text x="203.0" y="463.88">8</text><text x="222.0" y="463.88">6</text><text x="241.0" y="463.88">5</text><text x="279.0" y="463.88">6</text><text x="298.0" y="463.88">5</text><text x="317.0" y="463.88">6</text><text x="336.0" y="463.88">5</text><text x="374.0" y="463.88">1</text><text x="393.0" y="463.88">3</text><text x="431.0" y="463.88">12</text><text x="450.0" y="463.88">1</text><text x="488.0" y="463.88">1</text><text x="507.0" y="463.88">9</text><text x="70.0" y="470.02">4</text><text x="89.0" y="470.02">4</text><text x="108.0" y="470.02">4</text><text x="127.0" y="470.02">5</text><text x="165.0" y="470.02">7</text><text x="203.0" y="470.02">11</text><text x="222.0" y="470.02">3</text><text x="241.0" y="470.02">3</text><text x="279.0" y="470.02">8</text><text x="298.0" y="470.02">6</text><text x="317.0" y="470.02">5</text><text x="336.0" y="470.02">6</text><text x="374.0" y="470.02">5</text><text x="393.0" y="470.02">3</text><text x="431.0" y="470.02">8</text><text x="450.0" y="470.02">5</text><text x="488.0" y="470.02">2</text><text x="507.0" y="470.02">2</text><text x="70.0" y="482.28">3</text><text x="89.0" y="482.28">3</text><text x="108.0" y="482.28">5</text><text x="127.0" y="482.28">4</text><text x="165.0" y="482.28">5</text><text x="203.0" y="482.28">3</text><text x="222.0" y="482.28">3</text><text x="241.0" y="482.28">3</text><text x="279.0" y="482.28">1</text><text x="298.0" y="482.28">0</text><text x="317.0" y="482.28">2</text><text x="336.0" y="482.28">0</text><text x="374.0" y="482.28">0</text><text x="393.0" y="482.28">1</text><text x="431.0" y="482.28">9</text><text x="450.0" y="482.28">2</text><text x="488.0" y="482.28">3</text><text x="507.0" y="482.28">2</text><text x="70.0" y="488.42">4</text><text x="89.0" y="488.42">4</text><text x="108.0" y="488.42">3</text><text x="127.0" y="488.42">3</text><text x="165.0" y="488.42">4</text><text x="203.0" y="488.42">3</text><text x="222.0" y="488.42">4</text><text x="241.0" y="488.42">3</text><text x="279.0" y="488.42">2</text><text x="298.0" y="488.42">2</text><text x="317.0" y="488.42">2</text><text x="336.0" y="488.42">1</text><text x="374.0" y="488.42">0</text><text x="393.0" y="488.42">0</text><text x="431.0" y="488.42">6</text><text x="450.0" y="488.42">1</text><text x="488.0" y="488.42">2</text><text x="507.0" y="488.42">2</text><text x="70.0" y="494.55">3</text><text x="89.0" y="494.55">2</text><text x="108.0" y="494.55">3</text><text x="127.0" y="494.55">4</text><text x="165.0" y="494.55">6</text><text x="203.0" y="494.55">9</text><text x="222.0" y="494.55">3</text><text x="241.0" y="494.55">3</text><text x="279.0" y="494.55">2</text><text x="298.0" y="494.55">1</text><text x="317.0" y="494.55">2</text><text x="336.0" y="494.55">2</text><text x="374.0" y="494.55">4</text><text x="393.0" y="494.55">1</text><text x="431.0" y="494.55">1</text><text x="450.0" y="494.55">4</text><text x="488.0" y="494.55">1</text><text x="507.0" y="494.55">1</text><text x="70.0" y="500.68">1</text><text x="89.0" y="500.68">1</text><text x="108.0" y="500.68">7</text><text x="127.0" y="500.68">3</text><text x="165.0" y="500.68">2</text><text x="203.0" y="500.68">3</text><text x="222.0" y="500.68">6</text><text x="241.0" y="500.68">4</text><text x="279.0" y="500.68">1</text><text x="298.0" y="500.68">1</text><text x="317.0" y="500.68">2</text><text x="336.0" y="500.68">2</text><text x="374.0" y="500.68">1</text><text x="393.0" y="500.68">0</text><text x="431.0" y="500.68">4</text><text x="450.0" y="500.68">1</text><text x="488.0" y="500.68">2</text><text x="507.0" y="500.68">3</text><text x="70.0" y="506.82">3</text><text x="89.0" y="506.82">2</text><text x="108.0" y="506.82">4</text><text x="127.0" y="506.82">4</text><text x="165.0" y="506.82">3</text><text x="203.0" y="506.82">5</text><text x="222.0" y="506.82">3</text><text x="241.0" y="506.82">3</text><text x="279.0" y="506.82">1</text><text x="298.0" y="506.82">2</text><text x="317.0" y="506.82">1</text><text x="336.0" y="506.82">1</text><text x="374.0" y="506.82">0</text><text x="393.0" y="506.82">1</text><text x="431.0" y="506.82">0</text><text x="450.0" y="506.82">0</text><text x="488.0" y="506.82">4</text><text x="507.0" y="506.82">2</text><text x="70.0" y="512.95">3</text><text x="89.0" y="512.95">4</text><text x="108.0" y="512.95">4</text><text x="127.0" y="512.95">4</text><text x="165.0" y="512.95">5</text><text x="203.0" y="512.95">7</text><text x="222.0" y="512.95">5</text><text x="241.0" y="512.95">2</text><text x="279.0" y="512.95">8</text><text x="298.0" y="512.95">11</text><text x="317.0" y="512.95">3</text><text x="336.0" y="512.95">4</text><text x="374.0" y="512.95">1</text><text x="393.0" y="512.95">1</text><text x="431.0" y="512.95">5</text><text x="450.0" y="512.95">1</text><text x="488.0" y="512.95">2</text><text x="507.0" y="512.95">1</text><text x="70.0" y="525.22">3</text><text x="89.0" y="525.22">2</text><text x="108.0" y="525.22">2</text><text x="127.0" y="525.22">5</text><text x="165.0" y="525.22">5</text><text x="203.0" y="525.22">10</text><text x="222.0" y="525.22">4</text><text x="241.0" y="525.22">0</text><text x="279.0" y="525.22">8</text><text x="298.0" y="525.22">4</text><text x="317.0" y="525.22">0</text><text x="336.0" y="525.22">0</text><text x="374.0" y="525.22">4</text><text x="393.0" y="525.22">3</text><text x="431.0" y="525.22">1</text><text x="450.0" y="525.22">1</text><text x="488.0" y="525.22">3</text><text x="507.0" y="525.22">1</text><text x="70.0" y="531.35">5</text><text x="89.0" y="531.35">4</text><text x="108.0" y="531.35">4</text><text x="127.0" y="531.35">4</text><text x="165.0" y="531.35">5</text><text x="203.0" y="531.35">4</text><text x="222.0" y="531.35">4</text><text x="241.0" y="531.35">2</text><text x="279.0" y="531.35">3</text><text x="298.0" y="531.35">2</text><text x="317.0" y="531.35">2</text><text x="336.0" y="531.35">0</text><text x="374.0" y="531.35">2</text><text x="393.0" y="531.35">3</text><text x="431.0" y="531.35">6</text><text x="450.0" y="531.35">1</text><text x="488.0" y="531.35">1</text><text x="507.0" y="531.35">2</text><text x="70.0" y="537.48">3</text><text x="89.0" y="537.48">3</text><text x="108.0" y="537.48">3</text><text x="127.0" y="537.48">4</text><text x="165.0" y="537.48">6</text><text x="203.0" y="537.48">9</text><text x="222.0" y="537.48">7</text><text x="241.0" y="537.48">5</text><text x="279.0" y="537.48">7</text><text x="298.0" y="537.48">12</text><text x="317.0" y="537.48">10</text><text x="336.0" y="537.48">7</text><text x="374.0" y="537.48">8</text><text x="393.0" y="537.48">2</text><text x="431.0" y="537.48">6</text><text x="450.0" y="537.48">3</text><text x="488.0" y="537.48">4</text><text x="507.0" y="537.48">2</text><text x="70.0" y="543.62">6</text><text x="89.0" y="543.62">5</text><text x="108.0" y="543.62">4</text><text x="127.0" y="543.62">4</text><text x="165.0" y="543.62">6</text><text x="203.0" y="543.62">4</text><text x="222.0" y="543.62">5</text><text x="241.0" y="543.62">4</text><text x="279.0" y="543.62">11</text><text x="298.0" y="543.62">7</text><text x="317.0" y="543.62">5</text><text x="336.0" y="543.62">2</text><text x="374.0" y="543.62">2</text><text x="393.0" y="543.62">2</text><text x="431.0" y="543.62">6</text><text x="450.0" y="543.62">2</text><text x="488.0" y="543.62">4</text><text x="507.0" y="543.62">4</text><text x="70.0" y="549.75">2</text><text x="89.0" y="549.75">1</text><text x="108.0" y="549.75">3</text><text x="127.0" y="549.75">1</text><text x="165.0" y="549.75">1</text><text x="203.0" y="549.75">2</text><text x="222.0" y="549.75">4</text><text x="241.0" y="549.75">3</text><text x="279.0" y="549.75">1</text><text x="298.0" y="549.75">3</text><text x="317.0" y="549.75">4</text><text x="336.0" y="549.75">4</text><text x="374.0" y="549.75">0</text><text x="393.0" y="549.75">2</text><text x="431.0" y="549.75">8</text><text x="450.0" y="549.75">3</text><text x="488.0" y="549.75">4</text><text x="507.0" y="549.75">3</text><text x="70.0" y="555.88">2</text><text x="89.0" y="555.88">3</text><text x="108.0" y="555.88">6</text><text x="127.0" y="555.88">2</text><text x="165.0" y="555.88">4</text><text x="203.0" y="555.88">2</text><text x="222.0" y="555.88">2</text><text x="241.0" y="555.88">3</text><text x="279.0" y="555.88">3</text><text x="298.0" y="555.88">3</text><text x="317.0" y="555.88">6</text><text x="336.0" y="555.88">7</text><text x="374.0" y="555.88">3</text><text x="393.0" y="555.88">1</text><text x="431.0" y="555.88">7</text><text x="450.0" y="555.88">2</text><text x="488.0" y="555.88">1</text><text x="507.0" y="555.88">1</text><text x="70.0" y="568.15">0</text><text x="89.0" y="568.15">0</text><text x="108.0" y="568.15">0</text><text x="127.0" y="568.15">0</text><text x="165.0" y="568.15">0</text><text x="203.0" y="568.15">0</text><text x="222.0" y="568.15">0</text><text x="241.0" y="568.15">0</text><text x="279.0" y="568.15">0</text><text x="298.0" y="568.15">0</text><text x="317.0" y="568.15">0</text><text x="336.0" y="568.15">0</text><text x="374.0" y="568.15">0</text><text x="393.0" y="568.15">0</text><text x="431.0" y="568.15">0</text><text x="450.0" y="568.15">0</text><text x="488.0" y="568.15">0</text><text x="507.0" y="568.15">0</text><text x="70.0" y="574.28">0</text><text x="89.0" y="574.28">0</text><text x="108.0" y="574.28">0</text><text x="127.0" y="574.28">0</text><text x="165.0" y="574.28">0</text><text x="203.0" y="574.28">0</text><text x="222.0" y="574.28">0</text><text x="241.0" y="574.28">0</text><text x="279.0" y="574.28">0</text><text x="298.0" y="574.28">0</text><text x="317.0" y="574.28">0</text><text x="336.0" y="574.28">0</text><text x="374.0" y="574.28">0</text><text x="393.0" y="574.28">0</text><text x="431.0" y="574.28">0</text><text x="450.0" y="574.28">0</text><text x="488.0" y="574.28">0</text><text x="507.0" y="574.28">0</text><text x="70.0" y="580.42">0</text><text x="89.0" y="580.42">0</text><text x="108.0" y="580.42">0</text><text x="127.0" y="580.42">0</text><text x="165.0" y="580.42">0</text><text x="203.0" y="580.42">0</text><text x="222.0" y="580.42">0</text><text x="241.0" y="580.42">0</text><text x="279.0" y="580.42">0</text><text x="298.0" y="580.42">0</text><text x="317.0" y="580.42">0</text><text x="336.0" y="580.42">0</text><text x="374.0" y="580.42">0</text><text x="393.0" y="580.42">0</text><text x="431.0" y="580.42">0</text><text x="450.0" y="580.42">0</text><text x="488.0" y="580.42">0</text><text x="507.0" y="580.42">0</text><text x="70.0" y="586.55">0</text><text x="89.0" y="586.55">0</text><text x="108.0" y="586.55">0</text><text x="127.0" y="586.55">0</text><text x="165.0" y="586.55">0</text><text x="203.0" y="586.55">0</text><text x="222.0" y="586.55">0</text><text x="241.0" y="586.55">0</text><text x="279.0" y="586.55">0</text><text x="298.0" y="586.55">0</text><text x="317.0" y="586.55">0</text><text x="336.0" y="586.55">0</text><text x="374.0" y="586.55">0</text><text x="393.0" y="586.55">0</text><text x="431.0" y="586.55">0</text><text x="450.0" y="586.55">0</text><text x="488.0" y="586.55">0</text><text x="507.0" y="586.55">0</text><text x="70.0" y="592.68">0</text><text x="89.0" y="592.68">0</text><text x="108.0" y="592.68">0</text><text x="127.0" y="592.68">0</text><text x="165.0" y="592.68">0</text><text x="203.0" y="592.68">0</text><text x="222.0" y="592.68">0</text><text x="241.0" y="592.68">0</text><text x="279.0" y="592.68">0</text><text x="298.0" y="592.68">0</text><text x="317.0" y="592.68">0</text><text x="336.0" y="592.68">0</text><text x="374.0" y="592.68">0</text><text x="393.0" y="592.68">0</text><text x="431.0" y="592.68">0</text><text x="450.0" y="592.68">0</text><text x="488.0" y="592.68">0</text><text x="507.0" y="592.68">0</text><text x="70.0" y="598.82">0</text><text x="89.0" y="598.82">0</text><text x="108.0" y="598.82">0</text><text x="127.0" y="598.82">0</text><text x="165.0" y="598.82">0</text><text x="203.0" y="598.82">0</text><text x="222.0" y="598.82">0</text><text x="241.0" y="598.82">0</text><text x="279.0" y="598.82">0</text><text x="298.0" y="598.82">0</text><text x="317.0" y="598.82">0</text><text x="336.0" y="598.82">0</text><text x="374.0" y="598.82">0</text><text x="393.0" y="598.82">0</text><text x="431.0" y="598.82">0</text><text x="450.0" y="598.82">0</text><text x="488.0" y="598.82">0</text><text x="507.0" y="598.82">0</text><text x="70.0" y="604.95">0</text><text x="89.0" y="604.95">0</text><text x="108.0" y="604.95">0</text><text x="127.0" y="604.95">0</text><text x="165.0" y="604.95">0</text><text x="203.0" y="604.95">0</text><text x="222.0" y="604.95">0</text><text x="241.0" y="604.95">0</text><text x="279.0" y="604.95">0</text><text x="298.0" y="604.95">0</text><text x="317.0" y="604.95">0</text><text x="336.0" y="604.95">0</text><text x="374.0" y="604.95">0</text><text x="393.0" y="604.95">0</text><text x="431.0" y="604.95">0</text><text x="450.0" y="604.95">0</text><text x="488.0" y="604.95">0</text><text x="507.0" y="604.95">0</text><text x="70.0" y="611.08">0</text><text x="89.0" y="611.08">0</text><text x="108.0" y="611.08">0</text><text x="127.0" y="611.08">0</text><text x="165.0" y="611.08">0</text><text x="203.0" y="611.08">0</text><text x="222.0" y="611.08">0</text><text x="241.0" y="611.08">0</text><text x="279.0" y="611.08">0</text><text x="298.0" y="611.08">0</text><text x="317.0" y="611.08">0</text><text x="336.0" y="611.08">0</text><text x="374.0" y="611.08">0</text><text x="393.0" y="611.08">0</text><text x="431.0" y="611.08">0</text><text x="450.0" y="611.08">0</text><text x="488.0" y="611.08">0</text><text x="507.0" y="611.08">0</text><text x="70.0" y="617.22">0</text><text x="89.0" y="617.22">0</text><text x="108.0" y="617.22">0</text><text x="127.0" y="617.22">0</text><text x="165.0" y="617.22">0</text><text x="203.0" y="617.22">0</text><text x="222.0" y="617.22">0</text><text x="241.0" y="617.22">0</text><text x="279.0" y="617.22">0</text><text x="298.0" y="617.22">0</text><text x="317.0" y="617.22">0</text><text x="336.0" y="617.22">0</text><text x="374.0" y="617.22">0</text><text x="393.0" y="617.22">0</text><text x="431.0" y="617.22">0</text><text x="450.0" y="617.22">0</text><text x="488.0" y="617.22">0</text><text x="507.0" y="617.22">0</text><text x="70.0" y="623.35">0</text><text x="89.0" y="623.35">0</text><text x="108.0" y="623.35">0</text><text x="127.0" y="623.35">0</text><text x="165.0" y="623.35">0</text><text x="203.0" y="623.35">0</text><text x="222.0" y="623.35">0</text><text x="241.0" y="623.35">0</text><text x="279.0" y="623.35">0</text><text x="298.0" y="623.35">0</text><text x="317.0" y="623.35">0</text><text x="336.0" y="623.35">0</text><text x="374.0" y="623.35">0</text><text x="393.0" y="623.35">0</text><text x="431.0" y="623.35">0</text><text x="450.0" y="623.35">0</text><text x="488.0" y="623.35">0</text><text x="507.0" y="623.35">0</text><text x="70.0" y="629.48">0</text><text x="89.0" y="629.48">0</text><text x="108.0" y="629.48">0</text><text x="127.0" y="629.48">0</text><text x="165.0" y="629.48">0</text><text x="203.0" y="629.48">0</text><text x="222.0" y="629.48">0</text><text x="241.0" y="629.48">0</text><text x="279.0" y="629.48">0</text><text x="298.0" y="629.48">0</text><text x="317.0" y="629.48">0</text><text x="336.0" y="629.48">0</text><text x="374.0" y="629.48">0</text><text x="393.0" y="629.48">0</text><text x="431.0" y="629.48">0</text><text x="450.0" y="629.48">0</text><text x="488.0" y="629.48">0</text><text x="507.0" y="629.48">0</text><text x="70.0" y="635.62">0</text><text x="89.0" y="635.62">0</text><text x="108.0" y="635.62">0</text><text x="127.0" y="635.62">0</text><text x="165.0" y="635.62">0</text><text x="203.0" y="635.62">0</text><text x="222.0" y="635.62">0</text><text x="241.0" y="635.62">0</text><text x="279.0" y="635.62">0</text><text x="298.0" y="635.62">0</text><text x="317.0" y="635.62">0</text><text x="336.0" y="635.62">0</text><text x="374.0" y="635.62">0</text><text x="393.0" y="635.62">0</text><text x="431.0" y="635.62">0</text><text x="450.0" y="635.62">0</text><text x="488.0" y="635.62">0</text><text x="507.0" y="635.62">0</text><text x="70.0" y="641.75">0</text><text x="89.0" y="641.75">0</text><text x="108.0" y="641.75">0</text><text x="127.0" y="641.75">0</text><text x="165.0" y="641.75">0</text><text x="203.0" y="641.75">0</text><text x="222.0" y="641.75">0</text><text x="241.0" y="641.75">0</text><text x="279.0" y="641.75">0</text><text x="298.0" y="641.75">0</text><text x="317.0" y="641.75">0</text><text x="336.0" y="641.75">0</text><text x="374.0" y="641.75">0</text><text x="393.0" y="641.75">0</text><text x="431.0" y="641.75">0</text><text x="450.0" y="641.75">0</text><text x="488.0" y="641.75">0</text><text x="507.0" y="641.75">0</text><text x="70.0" y="647.88">0</text><text x="89.0" y="647.88">0</text><text x="108.0" y="647.88">0</text><text x="127.0" y="647.88">0</text><text x="165.0" y="647.88">0</text><text x="203.0" y="647.88">0</text><text x="222.0" y="647.88">0</text><text x="241.0" y="647.88">0</text><text x="279.0" y="647.88">0</text><text x="298.0" y="647.88">0</text><text x="317.0" y="647.88">0</text><text x="336.0" y="647.88">0</text><text x="374.0" y="647.88">0</text><text x="393.0" y="647.88">0</text><text x="431.0" y="647.88">0</text><text x="450.0" y="647.88">0</text><text x="488.0" y="647.88">0</text><text x="507.0" y="647.88">0</text></g>
<path d="M8.5 336.40H27.5M8.5 342.53H27.5M8.5 348.67H27.5M8.5 354.80H27.5M8.5 360.93H27.5M8.5 367.07H27.5M8.5 373.20H27.5M8.5 379.33H27.5M8.5 385.47H27.5M8.5 391.60H27.5M8.5 397.73H27.5M8.5 403.87H27.5M8.5 410.00H27.5M8.5 416.13H27.5M8.5 422.27H27.5M8.5 428.40H27.5M8.5 434.53H27.5M8.5 440.67H27.5M8.5 446.80H27.5M8.5 452.93H27.5M8.5 459.07H27.5M8.5 465.20H27.5M8.5 471.33H27.5M8.5 477.47H27.5M8.5 483.60H27.5M8.5 489.73H27.5M8.5 495.87H27.5M8.5 502.00H27.5M8.5 508.13H27.5M8.5 514.27H27.5M8.5 520.40H27.5M8.5 526.53H27.5M8.5 532.67H27.5M8.5 538.80H27.5M8.5 544.93H27.5M8.5 551.07H27.5M8.5 557.20H27.5M8.5 563.33H27.5M8.5 569.47H27.5M8.5 575.60H27.5M8.5 581.73H27.5M8.5 587.87H27.5M8.5 594.00H27.5M8.5 600.13H27.5M8.5 606.27H27.5M8.5 612.40H27.5M8.5 618.53H27.5M8.5 624.67H27.5M8.5 630.80H27.5M8.5 636.93H27.5M8.5 643.07H27.5M8.5 649.20H27.5" stroke="#666" stroke-width=".8"/>
<path d="M60.5 336.40h19.0M79.5 336.40h19.0M98.5 336.40h19.0M117.5 336.40h19.0M155.5 336.40h19.0M193.5 336.40h19.0M212.5 336.40h19.0M231.5 336.40h19.0M269.5 336.40h19.0M288.5 336.40h19.0M307.5 336.40h19.0M326.5 336.40h19.0M364.5 336.40h19.0M383.5 336.40h19.0M421.5 336.40h19.0M440.5 336.40h19.0M478.5 336.40h19.0M497.5 336.40h19.0M60.5 342.53h19.0M79.5 342.53h19.0M98.5 342.53h19.0M117.5 342.53h19.0M155.5 342.53h19.0M193.5 342.53h19.0M212.5 342.53h19.0M231.5 342.53h19.0M269.5 342.53h19.0M288.5 342.53h19.0M307.5 342.53h19.0M326.5 342.53h19.0M364.5 342.53h19.0M383.5 342.53h19.0M421.5 342.53h19.0M440.5 342.53h19.0M478.5 342.53h19.0M497.5 342.53h19.0M60.5 348.67h19.0M79.5 348.67h19.0M98.5 348.67h19.0M117.5 348.67h19.0M155.5 348.67h19.0M193.5 348.67h19.0M212.5 348.67h19.0M231.5 348.67h19.0M269.5 348.67h19.0M288.5 348.67h19.0M307.5 348.67h19.0M326.5 348.67h19.0M364.5 348.67h19.0M383.5 348.67h19.0M421.5 348.67h19.0M440.5 348.67h19.0M478.5 348.67h19.0M497.5 348.67h19.0M60.5 354.80h19.0M79.5 354.80h19.0M98.5 354.80h19.0M117.5 354.80h19.0M155.5 354.80h19.0M193.5 354.80h19.0M212.5 354.80h19.0M231.5 354.80h19.0M269.5 354.80h19.0M288.5 354.80h19.0M307.5 354.80h19.0M326.5 354.80h19.0M364.5 354.80h19.0M383.5 354.80h19.0M421.5 354.80h19.0M440.5 354.80h19.0M478.5 354.80h19.0M497.5 354.80h19.0M60.5 360.93h19.0M79.5 360.93h19.0M98.5 360.93h19.0M117.5 360.93h19.0M155.5 360.93h19.0M193.5 360.93h19.0M212.5 360.93h19.0M231.5 360.93h19.0M269.5 360.93h19.0M288.5 360.93h19.0M307.5 360.93h19.0M326.5 360.93h19.0M364.5 360.93h19.0M383.5 360.93h19.0M421.5 360.93h19.0M440.5 360.93h19.0M478.5 360.93h19.0M497.5 360.93h19.0M60.5 367.07h19.0M79.5 367.07h19.0M98.5 367.07h19.0M117.5 367.07h19.0M155.5 367.07h19.0M193.5 367.07h19.0M212.5 367.07h19.0M231.5 367.07h19.0M269.5 367.07h19.0M288.5 367.07h19.0M307.5 367.07h19.0M326.5 367.07h19.0M364.5 367.07h19.0M383.5 367.07h19.0M421.5 367.07h19.0M440.5 367.07h19.0M478.5 367.07h19.0M497.5 367.07h19.0M60.5 373.20h19.0M79.5 373.20h19.0M98.5 373.20h19.0M117.5 373.20h19.0M155.5 373.20h19.0M193.5 373.20h19.0M212.5 373.20h19.0M231.5 373.20h19.0M269.5 373.20h19.0M288.5 373.20h19.0M307.5 373.20h19.0M326.5 373.20h19.0M364.5 373.20h19.0M383.5 373.20h19.0M421.5 373.20h19.0M440.5 373.20h19.0M478.5 373.20h19.0M497.5 373.20h19.0M60.5 379.33h19.0M79.5 379.33h19.0M98.5 379.33h19.0M117.5 379.33h19.0M155.5 379.33h19.0M193.5 379.33h19.0M212.5 379.33h19.0M231.5 379.33h19.0M269.5 379.33h19.0M288.5 379.33h19.0M307.5 379.33h19.0M326.5 379.33h19.0M364.5 379.33h19.0M383.5 379.33h19.0M421.5 379.33h19.0M440.5 379.33h19.0M478.5 379.33h19.0M497.5 379.33h19.0M60.5 385.47h19.0M79.5 385.47h19.0M98.5 385.47h19.0M117.5 385.47h19.0M155.5 385.47h19.0M193.5 385.47h19.0M212.5 385.47h19.0M231.5 385.47h19.0M269.5 385.47h19.0M288.5 385.47h19.0M307.5 385.47h19.0M326.5 385.47h19.0M364.5 385.47h19.0M383.5 385.47h19.0M421.5 385.47h19.0M440.5 385.47h19.0M478.5 385.47h19.0M497.5 385.47h19.0M60.5 391.60h19.0M79.5 391.60h19.0M98.5 391.60h19.0M117.5 391.60h19.0M155.5 391.60h19.0M193.5 391.60h19.0M212.5 391.60h19.0M231.5 391.60h19.0M269.5 391.60h19.0M288.5 391.60h19.0M307.5 391.60h19.0M326.5 391.60h19.0M364.5 391.60h19.0M383.5 391.60h19.0M421.5 391.60h19.0M440.5 391.60h19.0M478.5 391.60h19.0M497.5 391.60h19.0M60.5 397.73h19.0M79.5 397.73h19.0M98.5 397.73h19.0M117.5 397.73h19.0M155.5 397.73h19.0M193.5 397.73h19.0M212.5 397.73h19.0M231.5 397.73h19.0M269.5 397.73h19.0M288.5 397.73h19.0M307.5 397.73h19.0M326.5 397.73h19.0M364.5 397.73h19.0M383.5 397.73h19.0M421.5 397.73h19.0M440.5 397.73h19.0M478.5 397.73h19.0M497.5 397.73h19.0M60.5 403.87h19.0M79.5 403.87h19.0M98.5 403.87h19.0M117.5 403.87h19.0M155.5 403.87h19.0M193.5 403.87h19.0M212.5 403.87h19.0M231.5 403.87h19.0M269.5 403.87h19.0M288.5 403.87h19.0M307.5 403.87h19.0M326.5 403.87h19.0M364.5 403.87h19.0M383.5 403.87h19.0M421.5 403.87h19.0M440.5 403.87h19.0M478.5 403.87h19.0M497.5 403.87h19.0M60.5 410.00h19.0M79.5 410.00h19.0M98.5 410.00h19.0M117.5 410.00h19.0M155.5 410.00h19.0M193.5 410.00h19.0M212.5 410.00h19.0M231.5 410.00h19.0M269.5 410.00h19.0M288.5 410.00h19.0M307.5 410.00h19.0M326.5 410.00h19.0M364.5 410.00h19.0M383.5 410.00h19.0M421.5 410.00h19.0M440.5 410.00h19.0M478.5 410.00h19.0M497.5 410.00h19.0M60.5 416.13h19.0M79.5 416.13h19.0M98.5 416.13h19.0M117.5 416.13h19.0M155.5 416.13h19.0M193.5 416.13h19.0M212.5 416.13h19.0M231.5 416.13h19.0M269.5 416.13h19.0M288.5 416.13h19.0M307.5 416.13h19.0M326.5 416.13h19.0M364.5 416.13h19.0M383.5 416.13h19.0M421.5 416.13h19.0M440.5 416.13h19.0M478.5 416.13h19.0M497.5 416.13h19.0M60.5 422.27h19.0M79.5 422.27h19.0M98.5 422.27h19.0M117.5 422.27h19.0M155.5 422.27h19.0M193.5 422.27h19.0M212.5 422.27h19.0M231.5 422.27h19.0M269.5 422.27h19.0M288.5 422.27h19.0M307.5 422.27h19.0M326.5 422.27h19.0M364.5 422.27h19.0M383.5 422.27h19.0M421.5 422.27h19.0M440.5 422.27h19.0M478.5 422.27h19.0M497.5 422.27h19.0M60.5 428.40h19.0M79.5 428.40h19.0M98.5 428.40h19.0M117.5 428.40h19.0M155.5 428.40h19.0M193.5 428.40h19.0M212.5 428.40h19.0M231.5 428.40h19.0M269.5 428.40h19.0M288.5 428.40h19.0M307.5 428.40h19.0M326.5 428.40h19.0M364.5 428.40h19.0M383.5 428.40h19.0M421.5 428.40h19.0M440.5 428.40h19.0M478.5 428.40h19.0M497.5 428.40h19.0M60.5 434.53h19.0M79.5 434.53h19.0M98.5 434.53h19.0M117.5 434.53h19.0M155.5 434.53h19.0M193.5 434.53h19.0M212.5 434.53h19.0M231.5 434.53h19.0M269.5 434.53h19.0M288.5 434.53h19.0M307.5 434.53h19.0M326.5 434.53h19.0M364.5 434.53h19.0M383.5 434.53h19.0M421.5 434.53h19.0M440.5 434.53h19.0M478.5 434.53h19.0M497.5 434.53h19.0M60.5 440.67h19.0M79.5 440.67h19.0M98.5 440.67h19.0M117.5 440.67h19.0M155.5 440.67h19.0M193.5 440.67h19.0M212.5 440.67h19.0M231.5 440.67h19.0M269.5 440.67h19.0M288.5 440.67h19.0M307.5 440.67h19.0M326.5 440.67h19.0M364.5 440.67h19.0M383.5 440.67h19.0M421.5 440.67h19.0M440.5 440.67h19.0M478.5 440.67h19.0M497.5 440.67h19.0M60.5 446.80h19.0M79.5 446.80h19.0M98.5 446.80h19.0M117.5 446.80h19.0M155.5 446.80h19.0M193.5 446.80h19.0M212.5 446.80h19.0M231.5 446.80h19.0M269.5 446.80h19.0M288.5 446.80h19.0M307.5 446.80h19.0M326.5 446.80h19.0M364.5 446.80h19.0M383.5 446.80h19.0M421.5 446.80h19.0M440.5 446.80h19.0M478.5 446.80h19.0M497.5 446.80h19.0M60.5 452.93h19.0M79.5 452.93h19.0M98.5 452.93h19.0M117.5 452.93h19.0M155.5 452.93h19.0M193.5 452.93h19.0M212.5 452.93h19.0M231.5 452.93h19.0M269.5 452.93h19.0M288.5 452.93h19.0M307.5 452.93h19.0M326.5 452.93h19.0M364.5 452.93h19.0M383.5 452.93h19.0M421.5 452.93h19.0M440.5 452.93h19.0M478.5 452.93h19.0M497.5 452.93h19.0M60.5 459.07h19.0M79.5 459.07h19.0M98.5 459.07h19.0M117.5 459.07h19.0M155.5 459.07h19.0M193.5 459.07h19.0M212.5 459.07h19.0M231.5 459.07h19.0M269.5 459.07h19.0M288.5 459.07h19.0M307.5 459.07h19.0M326.5 459.07h19.0M364.5 459.07h19.0M383.5 459.07h19.0M421.5 459.07h19.0M440.5 459.07h19.0M478.5 459.07h19.0M497.5 459.07h19.0M60.5 465.20h19.0M79.5 465.20h19.0M98.5 465.20h19.0M117.5 465.20h19.0M155.5 465.20h19.0M193.5 465.20h19.0M212.5 465.20h19.0M231.5 465.20h19.0M269.5 465.20h19.0M288.5 465.20h19.0M307.5 465.20h19.0M326.5 465.20h19.0M364.5 465.20h19.0M383.5 465.20h19.0M421.5 465.20h19.0M440.5 465.20h19.0M478.5 465.20h19.0M497.5 465.20h19.0M60.5 471.33h19.0M79.5 471.33h19.0M98.5 471.33h19.0M117.5 471.33h19.0M155.5 471.33h19.0M193.5 471.33h19.0M212.5 471.33h19.0M231.5 471.33h19.0M269.5 471.33h19.0M288.5 471.33h19.0M307.5 471.33h19.0M326.5 471.33h19.0M364.5 471.33h19.0M383.5 471.33h19.0M421.5 471.33h19.0M440.5 471.33h19.0M478.5 471.33h19.0M497.5 471.33h19.0M60.5 477.47h19.0M79.5 477.47h19.0M98.5 477.47h19.0M117.5 477.47h19.0M155.5 477.47h19.0M193.5 477.47h19.0M212.5 477.47h19.0M231.5 477.47h19.0M269.5 477.47h19.0M288.5 477.47h19.0M307.5 477.47h19.0M326.5 477.47h19.0M364.5 477.47h19.0M383.5 477.47h19.0M421.5 477.47h19.0M440.5 477.47h19.0M478.5 477.47h19.0M497.5 477.47h19.0M60.5 483.60h19.0M79.5 483.60h19.0M98.5 483.60h19.0M117.5 483.60h19.0M155.5 483.60h19.0M193.5 483.60h19.0M212.5 483.60h19.0M231.5 483.60h19.0M269.5 483.60h19.0M288.5 483.60h19.0M307.5 483.60h19.0M326.5 483.60h19.0M364.5 483.60h19.0M383.5 483.60h19.0M421.5 483.60h19.0M440.5 483.60h19.0M478.5 483.60h19.0M497.5 483.60h19.0M60.5 489.73h19.0M79.5 489.73h19.0M98.5 489.73h19.0M117.5 489.73h19.0M155.5 489.73h19.0M193.5 489.73h19.0M212.5 489.73h19.0M231.5 489.73h19.0M269.5 489.73h19.0M288.5 489.73h19.0M307.5 489.73h19.0M326.5 489.73h19.0M364.5 489.73h19.0M383.5 489.73h19.0M421.5 489.73h19.0M440.5 489.73h19.0M478.5 489.73h19.0M497.5 489.73h19.0M60.5 495.87h19.0M79.5 495.87h19.0M98.5 495.87h19.0M117.5 495.87h19.0M155.5 495.87h19.0M193.5 495.87h19.0M212.5 495.87h19.0M231.5 495.87h19.0M269.5 495.87h19.0M288.5 495.87h19.0M307.5 495.87h19.0M326.5 495.87h19.0M364.5 495.87h19.0M383.5 495.87h19.0M421.5 495.87h19.0M440.5 495.87h19.0M478.5 495.87h19.0M497.5 495.87h19.0M60.5 502.00h19.0M79.5 502.00h19.0M98.5 502.00h19.0M117.5 502.00h19.0M155.5 502.00h19.0M193.5 502.00h19.0M212.5 502.00h19.0M231.5 502.00h19.0M269.5 502.00h19.0M288.5 502.00h19.0M307.5 502.00h19.0M326.5 502.00h19.0M364.5 502.00h19.0M383.5 502.00h19.0M421.5 502.00h19.0M440.5 502.00h19.0M478.5 502.00h19.0M497.5 502.00h19.0M60.5 508.13h19.0M79.5 508.13h19.0M98.5 508.13h19.0M117.5 508.13h19.0M155.5 508.13h19.0M193.5 508.13h19.0M212.5 508.13h19.0M231.5 508.13h19.0M269.5 508.13h19.0M288.5 508.13h19.0M307.5 508.13h19.0M326.5 508.13h19.0M364.5 508.13h19.0M383.5 508.13h19.0M421.5 508.13h19.0M440.5 508.13h19.0M478.5 508.13h19.0M497.5 508.13h19.0M60.5 514.27h19.0M79.5 514.27h19.0M98.5 514.27h19.0M117.5 514.27h19.0M155.5 514.27h19.0M193.5 514.27h19.0M212.5 514.27h19.0M231.5 514.27h19.0M269.5 514.27h19.0M288.5 514.27h19.0M307.5 514.27h19.0M326.5 514.27h19.0M364.5 514.27h19.0M383.5 514.27h19.0M421.5 514.27h19.0M440.5 514.27h19.0M478.5 514.27h19.0M497.5 514.27h19.0M60.5 520.40h19.0M79.5 520.40h19.0M98.5 520.40h19.0M117.5 520.40h19.0M155.5 520.40h19.0M193.5 520.40h19.0M212.5 520.40h19.0M231.5 520.40h19.0M269.5 520.40h19.0M288.5 520.40h19.0M307.5 520.40h19.0M326.5 520.40h19.0M364.5 520.40h19.0M383.5 520.40h19.0M421.5 520.40h19.0M440.5 520.40h19.0M478.5 520.40h19.0M497.5 520.40h19.0M60.5 526.53h19.0M79.5 526.53h19.0M98.5 526.53h19.0M117.5 526.53h19.0M155.5 526.53h19.0M193.5 526.53h19.0M212.5 526.53h19.0M231.5 526.53h19.0M269.5 526.53h19.0M288.5 526.53h19.0M307.5 526.53h19.0M326.5 526.53h19.0M364.5 526.53h19.0M383.5 526.53h19.0M421.5 526.53h19.0M440.5 526.53h19.0M478.5 526.53h19.0M497.5 526.53h19.0M60.5 532.67h19.0M79.5 532.67h19.0M98.5 532.67h19.0M117.5 532.67h19.0M155.5 532.67h19.0M193.5 532.67h19.0M212.5 532.67h19.0M231.5 532.67h19.0M269.5 532.67h19.0M288.5 532.67h19.0M307.5 532.67h19.0M326.5 532.67h19.0M364.5 532.67h19.0M383.5 532.67h19.0M421.5 532.67h19.0M440.5 532.67h19.0M478.5 532.67h19.0M497.5 532.67h19.0M60.5 538.80h19.0M79.5 538.80h19.0M98.5 538.80h19.0M117.5 538.80h19.0M155.5 538.80h19.0M193.5 538.80h19.0M212.5 538.80h19.0M231.5 538.80h19.0M269.5 538.80h19.0M288.5 538.80h19.0M307.5 538.80h19.0M326.5 538.80h19.0M364.5 538.80h19.0M383.5 538.80h19.0M421.5 538.80h19.0M440.5 538.80h19.0M478.5 538.80h19.0M497.5 538.80h19.0M60.5 544.93h19.0M79.5 544.93h19.0M98.5 544.93h19.0M117.5 544.93h19.0M155.5 544.93h19.0M193.5 544.93h19.0M212.5 544.93h19.0M231.5 544.93h19.0M269.5 544.93h19.0M288.5 544.93h19.0M307.5 544.93h19.0M326.5 544.93h19.0M364.5 544.93h19.0M383.5 544.93h19.0M421.5 544.93h19.0M440.5 544.93h19.0M478.5 544.93h19.0M497.5 544.93h19.0M60.5 551.07h19.0M79.5 551.07h19.0M98.5 551.07h19.0M117.5 551.07h19.0M155.5 551.07h19.0M193.5 551.07h19.0M212.5 551.07h19.0M231.5 551.07h19.0M269.5 551.07h19.0M288.5 551.07h19.0M307.5 551.07h19.0M326.5 551.07h19.0M364.5 551.07h19.0M383.5 551.07h19.0M421.5 551.07h19.0M440.5 551.07h19.0M478.5 551.07h19.0M497.5 551.07h19.0M60.5 557.20h19.0M79.5 557.20h19.0M98.5 557.20h19.0M117.5 557.20h19.0M155.5 557.20h19.0M193.5 557.20h19.0M212.5 557.20h19.0M231.5 557.20h19.0M269.5 557.20h19.0M288.5 557.20h19.0M307.5 557.20h19.0M326.5 557.20h19.0M364.5 557.20h19.0M383.5 557.20h19.0M421.5 557.20h19.0M440.5 557.20h19.0M478.5 557.20h19.0M497.5 557.20h19.0M60.5 563.33h19.0M79.5 563.33h19.0M98.5 563.33h19.0M117.5 563.33h19.0M155.5 563.33h19.0M193.5 563.33h19.0M212.5 563.33h19.0M231.5 563.33h19.0M269.5 563.33h19.0M288.5 563.33h19.0M307.5 563.33h19.0M326.5 563.33h19.0M364.5 563.33h19.0M383.5 563.33h19.0M421.5 563.33h19.0M440.5 563.33h19.0M478.5 563.33h19.0M497.5 563.33h19.0M60.5 569.47h19.0M79.5 569.47h19.0M98.5 569.47h19.0M117.5 569.47h19.0M155.5 569.47h19.0M193.5 569.47h19.0M212.5 569.47h19.0M231.5 569.47h19.0M269.5 569.47h19.0M288.5 569.47h19.0M307.5 569.47h19.0M326.5 569.47h19.0M364.5 569.47h19.0M383.5 569.47h19.0M421.5 569.47h19.0M440.5 569.47h19.0M478.5 569.47h19.0M497.5 569.47h19.0M60.5 575.60h19.0M79.5 575.60h19.0M98.5 575.60h19.0M117.5 575.60h19.0M155.5 575.60h19.0M193.5 575.60h19.0M212.5 575.60h19.0M231.5 575.60h19.0M269.5 575.60h19.0M288.5 575.60h19.0M307.5 575.60h19.0M326.5 575.60h19.0M364.5 575.60h19.0M383.5 575.60h19.0M421.5 575.60h19.0M440.5 575.60h19.0M478.5 575.60h19.0M497.5 575.60h19.0M60.5 581.73h19.0M79.5 581.73h19.0M98.5 581.73h19.0M117.5 581.73h19.0M155.5 581.73h19.0M193.5 581.73h19.0M212.5 581.73h19.0M231.5 581.73h19.0M269.5 581.73h19.0M288.5 581.73h19.0M307.5 581.73h19.0M326.5 581.73h19.0M364.5 581.73h19.0M383.5 581.73h19.0M421.5 581.73h19.0M440.5 581.73h19.0M478.5 581.73h19.0M497.5 581.73h19.0M60.5 587.87h19.0M79.5 587.87h19.0M98.5 587.87h19.0M117.5 587.87h19.0M155.5 587.87h19.0M193.5 587.87h19.0M212.5 587.87h19.0M231.5 587.87h19.0M269.5 587.87h19.0M288.5 587.87h19.0M307.5 587.87h19.0M326.5 587.87h19.0M364.5 587.87h19.0M383.5 587.87h19.0M421.5 587.87h19.0M440.5 587.87h19.0M478.5 587.87h19.0M497.5 587.87h19.0M60.5 594.00h19.0M79.5 594.00h19.0M98.5 594.00h19.0M117.5 594.00h19.0M155.5 594.00h19.0M193.5 594.00h19.0M212.5 594.00h19.0M231.5 594.00h19.0M269.5 594.00h19.0M288.5 594.00h19.0M307.5 594.00h19.0M326.5 594.00h19.0M364.5 594.00h19.0M383.5 594.00h19.0M421.5 594.00h19.0M440.5 594.00h19.0M478.5 594.00h19.0M497.5 594.00h19.0M60.5 600.13h19.0M79.5 600.13h19.0M98.5 600.13h19.0M117.5 600.13h19.0M155.5 600.13h19.0M193.5 600.13h19.0M212.5 600.13h19.0M231.5 600.13h19.0M269.5 600.13h19.0M288.5 600.13h19.0M307.5 600.13h19.0M326.5 600.13h19.0M364.5 600.13h19.0M383.5 600.13h19.0M421.5 600.13h19.0M440.5 600.13h19.0M478.5 600.13h19.0M497.5 600.13h19.0M60.5 606.27h19.0M79.5 606.27h19.0M98.5 606.27h19.0M117.5 606.27h19.0M155.5 606.27h19.0M193.5 606.27h19.0M212.5 606.27h19.0M231.5 606.27h19.0M269.5 606.27h19.0M288.5 606.27h19.0M307.5 606.27h19.0M326.5 606.27h19.0M364.5 606.27h19.0M383.5 606.27h19.0M421.5 606.27h19.0M440.5 606.27h19.0M478.5 606.27h19.0M497.5 606.27h19.0M60.5 612.40h19.0M79.5 612.40h19.0M98.5 612.40h19.0M117.5 612.40h19.0M155.5 612.40h19.0M193.5 612.40h19.0M212.5 612.40h19.0M231.5 612.40h19.0M269.5 612.40h19.0M288.5 612.40h19.0M307.5 612.40h19.0M326.5 612.40h19.0M364.5 612.40h19.0M383.5 612.40h19.0M421.5 612.40h19.0M440.5 612.40h19.0M478.5 612.40h19.0M497.5 612.40h19.0M60.5 618.53h19.0M79.5 618.53h19.0M98.5 618.53h19.0M117.5 618.53h19.0M155.5 618.53h19.0M193.5 618.53h19.0M212.5 618.53h19.0M231.5 618.53h19.0M269.5 618.53h19.0M288.5 618.53h19.0M307.5 618.53h19.0M326.5 618.53h19.0M364.5 618.53h19.0M383.5 618.53h19.0M421.5 618.53h19.0M440.5 618.53h19.0M478.5 618.53h19.0M497.5 618.53h19.0M60.5 624.67h19.0M79.5 624.67h19.0M98.5 624.67h19.0M117.5 624.67h19.0M155.5 624.67h19.0M193.5 624.67h19.0M212.5 624.67h19.0M231.5 624.67h19.0M269.5 624.67h19.0M288.5 624.67h19.0M307.5 624.67h19.0M326.5 624.67h19.0M364.5 624.67h19.0M383.5 624.67h19.0M421.5 624.67h19.0M440.5 624.67h19.0M478.5 624.67h19.0M497.5 624.67h19.0M60.5 630.80h19.0M79.5 630.80h19.0M98.5 630.80h19.0M117.5 630.80h19.0M155.5 630.80h19.0M193.5 630.80h19.0M212.5 630.80h19.0M231.5 630.80h19.0M269.5 630.80h19.0M288.5 630.80h19.0M307.5 630.80h19.0M326.5 630.80h19.0M364.5 630.80h19.0M383.5 630.80h19.0M421.5 630.80h19.0M440.5 630.80h19.0M478.5 630.80h19.0M497.5 630.80h19.0M60.5 636.93h19.0M79.5 636.93h19.0M98.5 636.93h19.0M117.5 636.93h19.0M155.5 636.93h19.0M193.5 636.93h19.0M212.5 636.93h19.0M231.5 636.93h19.0M269.5 636.93h19.0M288.5 636.93h19.0M307.5 636.93h19.0M326.5 636.93h19.0M364.5 636.93h19.0M383.5 636.93h19.0M421.5 636.93h19.0M440.5 636.93h19.0M478.5 636.93h19.0M497.5 636.93h19.0M60.5 643.07h19.0M79.5 643.07h19.0M98.5 643.07h19.0M117.5 643.07h19.0M155.5 643.07h19.0M193.5 643.07h19.0M212.5 643.07h19.0M231.5 643.07h19.0M269.5 643.07h19.0M288.5 643.07h19.0M307.5 643.07h19.0M326.5 643.07h19.0M364.5 643.07h19.0M383.5 643.07h19.0M421.5 643.07h19.0M440.5 643.07h19.0M478.5 643.07h19.0M497.5 643.07h19.0M60.5 649.20h19.0M79.5 649.20h19.0M98.5 649.20h19.0M117.5 649.20h19.0M155.5 649.20h19.0M193.5 649.20h19.0M212.5 649.20h19.0M231.5 649.20h19.0M269.5 649.20h19.0M288.5 649.20h19.0M307.5 649.20h19.0M326.5 649.20h19.0M364.5 649.20h19.0M383.5 649.20h19.0M421.5 649.20h19.0M440.5 649.20h19.0M478.5 649.20h19.0M497.5 649.20h19.0" stroke="#000" stroke-opacity=".33" stroke-width="1.3"/>
<text x="44.00" y="353.73" font-size="5.7" font-weight="bold" fill="#111" stroke="#111" stroke-width=".18" text-anchor="middle">CBF–AML</text>
<path d="M8.5 336.40 H60.5 M8.5 367.07 H60.5" stroke="#888" stroke-width="1.1"/>
<text x="44.00" y="387.47" font-size="5.7" font-weight="bold" fill="#111" stroke="#111" stroke-width=".18" text-anchor="middle">APL</text>
<path d="M8.5 373.20 H60.5 M8.5 397.73 H60.5" stroke="#888" stroke-width="1.1"/>
<text x="44.00" y="435.35" font-size="5.7" font-weight="bold" fill="#111" stroke="#111" stroke-width=".18" text-anchor="middle">NK–AML</text>
<text x="44.00" y="442.05" font-size="5.7" font-weight="bold" fill="#111" stroke="#111" stroke-width=".18" text-anchor="middle">FLT3-ITD</text>
<path d="M8.5 403.87 H60.5 M8.5 471.33 H60.5" stroke="#888" stroke-width="1.1"/>
<text x="44.00" y="493.62" font-size="5.7" font-weight="bold" fill="#111" stroke="#111" stroke-width=".18" text-anchor="middle">NK–AML</text>
<text x="44.00" y="500.32" font-size="5.7" font-weight="bold" fill="#111" stroke="#111" stroke-width=".18" text-anchor="middle">FLT3wt</text>
<path d="M8.5 477.47 H60.5 M8.5 514.27 H60.5" stroke="#888" stroke-width="1.1"/>
<text x="44.00" y="533.20" font-size="5.7" font-weight="bold" fill="#111" stroke="#111" stroke-width=".18" text-anchor="middle">Adverse-</text>
<text x="44.00" y="539.90" font-size="5.7" font-weight="bold" fill="#111" stroke="#111" stroke-width=".18" text-anchor="middle">risk</text>
<text x="44.00" y="546.60" font-size="5.7" font-weight="bold" fill="#111" stroke="#111" stroke-width=".18" text-anchor="middle">karyotype</text>
<path d="M8.5 520.40 H60.5 M8.5 557.20 H60.5" stroke="#888" stroke-width="1.1"/>
<text x="44.00" y="608.27" font-size="5.7" font-weight="bold" fill="#111" stroke="#111" stroke-width=".18" text-anchor="middle">Normal</text>
<path d="M8.5 563.33 H60.5 M8.5 649.20 H60.5" stroke="#888" stroke-width="1.1"/>
<path d="M60.5 336.40V367.07M79.5 336.40V367.07M98.5 336.40V367.07M117.5 336.40V367.07M136.5 336.40V367.07M155.5 336.40V367.07M174.5 336.40V367.07M193.5 336.40V367.07M212.5 336.40V367.07M231.5 336.40V367.07M250.5 336.40V367.07M269.5 336.40V367.07M288.5 336.40V367.07M307.5 336.40V367.07M326.5 336.40V367.07M345.5 336.40V367.07M364.5 336.40V367.07M383.5 336.40V367.07M402.5 336.40V367.07M421.5 336.40V367.07M440.5 336.40V367.07M459.5 336.40V367.07M478.5 336.40V367.07M497.5 336.40V367.07M516.5 336.40V367.07M60.5 373.20V397.73M79.5 373.20V397.73M98.5 373.20V397.73M117.5 373.20V397.73M136.5 373.20V397.73M155.5 373.20V397.73M174.5 373.20V397.73M193.5 373.20V397.73M212.5 373.20V397.73M231.5 373.20V397.73M250.5 373.20V397.73M269.5 373.20V397.73M288.5 373.20V397.73M307.5 373.20V397.73M326.5 373.20V397.73M345.5 373.20V397.73M364.5 373.20V397.73M383.5 373.20V397.73M402.5 373.20V397.73M421.5 373.20V397.73M440.5 373.20V397.73M459.5 373.20V397.73M478.5 373.20V397.73M497.5 373.20V397.73M516.5 373.20V397.73M60.5 403.87V471.33M79.5 403.87V471.33M98.5 403.87V471.33M117.5 403.87V471.33M136.5 403.87V471.33M155.5 403.87V471.33M174.5 403.87V471.33M193.5 403.87V471.33M212.5 403.87V471.33M231.5 403.87V471.33M250.5 403.87V471.33M269.5 403.87V471.33M288.5 403.87V471.33M307.5 403.87V471.33M326.5 403.87V471.33M345.5 403.87V471.33M364.5 403.87V471.33M383.5 403.87V471.33M402.5 403.87V471.33M421.5 403.87V471.33M440.5 403.87V471.33M459.5 403.87V471.33M478.5 403.87V471.33M497.5 403.87V471.33M516.5 403.87V471.33M60.5 477.47V514.27M79.5 477.47V514.27M98.5 477.47V514.27M117.5 477.47V514.27M136.5 477.47V514.27M155.5 477.47V514.27M174.5 477.47V514.27M193.5 477.47V514.27M212.5 477.47V514.27M231.5 477.47V514.27M250.5 477.47V514.27M269.5 477.47V514.27M288.5 477.47V514.27M307.5 477.47V514.27M326.5 477.47V514.27M345.5 477.47V514.27M364.5 477.47V514.27M383.5 477.47V514.27M402.5 477.47V514.27M421.5 477.47V514.27M440.5 477.47V514.27M459.5 477.47V514.27M478.5 477.47V514.27M497.5 477.47V514.27M516.5 477.47V514.27M60.5 520.40V557.20M79.5 520.40V557.20M98.5 520.40V557.20M117.5 520.40V557.20M136.5 520.40V557.20M155.5 520.40V557.20M174.5 520.40V557.20M193.5 520.40V557.20M212.5 520.40V557.20M231.5 520.40V557.20M250.5 520.40V557.20M269.5 520.40V557.20M288.5 520.40V557.20M307.5 520.40V557.20M326.5 520.40V557.20M345.5 520.40V557.20M364.5 520.40V557.20M383.5 520.40V557.20M402.5 520.40V557.20M421.5 520.40V557.20M440.5 520.40V557.20M459.5 520.40V557.20M478.5 520.40V557.20M497.5 520.40V557.20M516.5 520.40V557.20M60.5 563.33V649.20M79.5 563.33V649.20M98.5 563.33V649.20M117.5 563.33V649.20M136.5 563.33V649.20M155.5 563.33V649.20M174.5 563.33V649.20M193.5 563.33V649.20M212.5 563.33V649.20M231.5 563.33V649.20M250.5 563.33V649.20M269.5 563.33V649.20M288.5 563.33V649.20M307.5 563.33V649.20M326.5 563.33V649.20M345.5 563.33V649.20M364.5 563.33V649.20M383.5 563.33V649.20M402.5 563.33V649.20M421.5 563.33V649.20M440.5 563.33V649.20M459.5 563.33V649.20M478.5 563.33V649.20M497.5 563.33V649.20M516.5 563.33V649.20" stroke="#000" stroke-opacity=".62" stroke-width=".9"/>
<path d="M60.5 367.07V373.20M79.5 367.07V373.20M98.5 367.07V373.20M117.5 367.07V373.20M136.5 367.07V373.20M155.5 367.07V373.20M174.5 367.07V373.20M193.5 367.07V373.20M212.5 367.07V373.20M231.5 367.07V373.20M250.5 367.07V373.20M269.5 367.07V373.20M288.5 367.07V373.20M307.5 367.07V373.20M326.5 367.07V373.20M345.5 367.07V373.20M364.5 367.07V373.20M383.5 367.07V373.20M402.5 367.07V373.20M421.5 367.07V373.20M440.5 367.07V373.20M459.5 367.07V373.20M478.5 367.07V373.20M497.5 367.07V373.20M516.5 367.07V373.20M60.5 397.73V403.87M79.5 397.73V403.87M98.5 397.73V403.87M117.5 397.73V403.87M136.5 397.73V403.87M155.5 397.73V403.87M174.5 397.73V403.87M193.5 397.73V403.87M212.5 397.73V403.87M231.5 397.73V403.87M250.5 397.73V403.87M269.5 397.73V403.87M288.5 397.73V403.87M307.5 397.73V403.87M326.5 397.73V403.87M345.5 397.73V403.87M364.5 397.73V403.87M383.5 397.73V403.87M402.5 397.73V403.87M421.5 397.73V403.87M440.5 397.73V403.87M459.5 397.73V403.87M478.5 397.73V403.87M497.5 397.73V403.87M516.5 397.73V403.87M60.5 471.33V477.47M79.5 471.33V477.47M98.5 471.33V477.47M117.5 471.33V477.47M136.5 471.33V477.47M155.5 471.33V477.47M174.5 471.33V477.47M193.5 471.33V477.47M212.5 471.33V477.47M231.5 471.33V477.47M250.5 471.33V477.47M269.5 471.33V477.47M288.5 471.33V477.47M307.5 471.33V477.47M326.5 471.33V477.47M345.5 471.33V477.47M364.5 471.33V477.47M383.5 471.33V477.47M402.5 471.33V477.47M421.5 471.33V477.47M440.5 471.33V477.47M459.5 471.33V477.47M478.5 471.33V477.47M497.5 471.33V477.47M516.5 471.33V477.47M60.5 514.27V520.40M79.5 514.27V520.40M98.5 514.27V520.40M117.5 514.27V520.40M136.5 514.27V520.40M155.5 514.27V520.40M174.5 514.27V520.40M193.5 514.27V520.40M212.5 514.27V520.40M231.5 514.27V520.40M250.5 514.27V520.40M269.5 514.27V520.40M288.5 514.27V520.40M307.5 514.27V520.40M326.5 514.27V520.40M345.5 514.27V520.40M364.5 514.27V520.40M383.5 514.27V520.40M402.5 514.27V520.40M421.5 514.27V520.40M440.5 514.27V520.40M459.5 514.27V520.40M478.5 514.27V520.40M497.5 514.27V520.40M516.5 514.27V520.40M60.5 557.20V563.33M79.5 557.20V563.33M98.5 557.20V563.33M117.5 557.20V563.33M136.5 557.20V563.33M155.5 557.20V563.33M174.5 557.20V563.33M193.5 557.20V563.33M212.5 557.20V563.33M231.5 557.20V563.33M250.5 557.20V563.33M269.5 557.20V563.33M288.5 557.20V563.33M307.5 557.20V563.33M326.5 557.20V563.33M345.5 557.20V563.33M364.5 557.20V563.33M383.5 557.20V563.33M402.5 557.20V563.33M421.5 557.20V563.33M440.5 557.20V563.33M459.5 557.20V563.33M478.5 557.20V563.33M497.5 557.20V563.33M516.5 557.20V563.33" stroke="#bbb" stroke-width=".7"/>
<path d="M27.5 336.4 V649.2" stroke="#777" stroke-width=".8"/>
<rect x="8.5" y="294.0" width="508.00" height="355.20" fill="none" stroke="#777" stroke-width="1"/>
<path d="M8.5 336.4 H516.5" stroke="#777" stroke-width="1"/>
</svg>
</body></html>
